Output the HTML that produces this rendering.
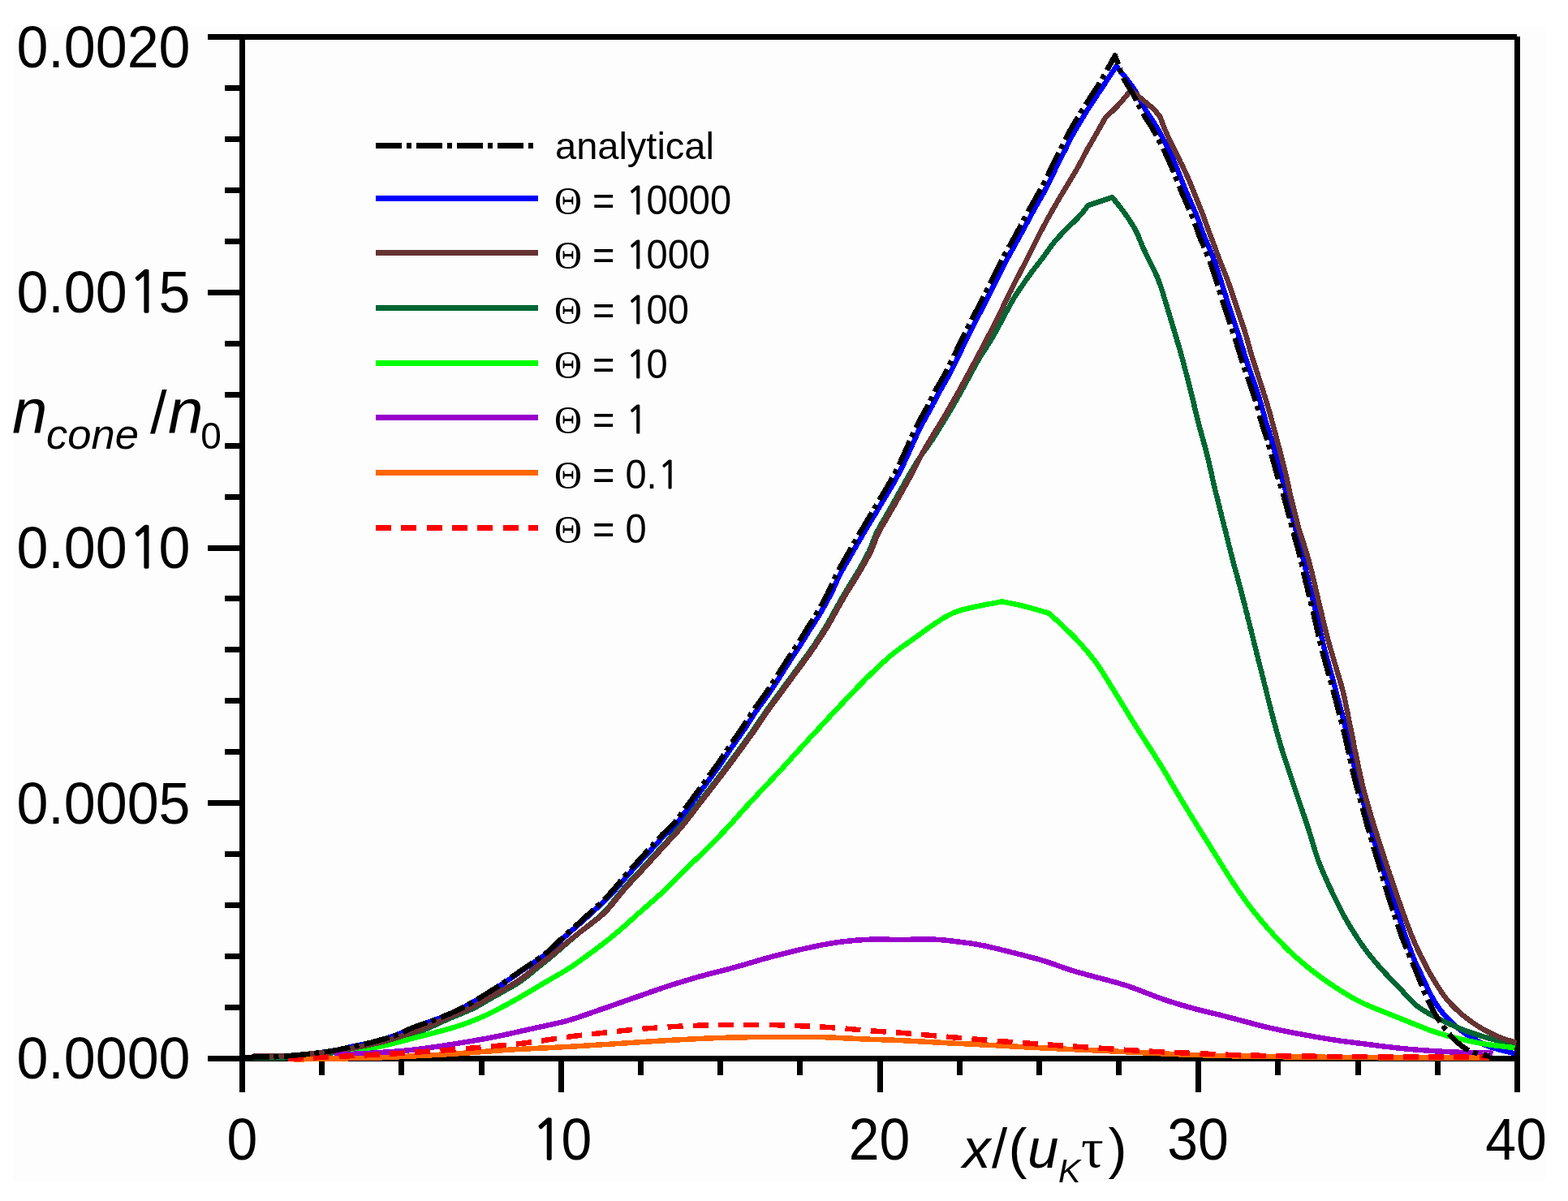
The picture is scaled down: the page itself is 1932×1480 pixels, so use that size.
<!DOCTYPE html>
<html><head><meta charset="utf-8"><style>
html,body{margin:0;padding:0;background:#fff;}
svg{display:block;}
.tk{font-family:"Liberation Sans",Arial,sans-serif;font-size:70px;fill:#000;}
.lg{font-family:"Liberation Sans",Arial,sans-serif;font-size:47px;fill:#000;}
.th{font-family:"Liberation Serif","Times New Roman",serif;}
.ax{font-family:"Liberation Sans",Arial,sans-serif;fill:#000;}
</style></head><body>
<svg xmlns="http://www.w3.org/2000/svg" width="1932" height="1480" viewBox="0 0 1932 1480">
<rect x="0" y="0" width="1932" height="1480" fill="#fff"/>
<rect x="16" y="32" width="1889" height="1424" fill="#fdfdfd"/>
<g fill="#000" shape-rendering="crispEdges">
<rect x="256" y="42" width="1613" height="7"/>
<rect x="295" y="42" width="7" height="1304"/>
<rect x="1866" y="45" width="7" height="1301"/>
<rect x="256" y="1301" width="1617" height="7"/>
<rect x="256" y="1301.0" width="40" height="7"/>
<rect x="277" y="1238.0" width="19" height="7"/>
<rect x="277" y="1175.1" width="19" height="7"/>
<rect x="277" y="1112.2" width="19" height="7"/>
<rect x="277" y="1049.2" width="19" height="7"/>
<rect x="256" y="986.2" width="40" height="7"/>
<rect x="277" y="923.3" width="19" height="7"/>
<rect x="277" y="860.3" width="19" height="7"/>
<rect x="277" y="797.4" width="19" height="7"/>
<rect x="277" y="734.4" width="19" height="7"/>
<rect x="256" y="671.5" width="40" height="7"/>
<rect x="277" y="608.5" width="19" height="7"/>
<rect x="277" y="545.6" width="19" height="7"/>
<rect x="277" y="482.6" width="19" height="7"/>
<rect x="277" y="419.7" width="19" height="7"/>
<rect x="256" y="356.8" width="40" height="7"/>
<rect x="277" y="293.8" width="19" height="7"/>
<rect x="277" y="230.8" width="19" height="7"/>
<rect x="277" y="167.9" width="19" height="7"/>
<rect x="277" y="105.0" width="19" height="7"/>
<rect x="256" y="42.0" width="40" height="7"/>
<rect x="295.0" y="1305" width="7" height="41"/>
<rect x="393.2" y="1305" width="7" height="20"/>
<rect x="491.4" y="1305" width="7" height="20"/>
<rect x="589.6" y="1305" width="7" height="20"/>
<rect x="687.8" y="1305" width="7" height="41"/>
<rect x="785.9" y="1305" width="7" height="20"/>
<rect x="884.1" y="1305" width="7" height="20"/>
<rect x="982.3" y="1305" width="7" height="20"/>
<rect x="1080.5" y="1305" width="7" height="41"/>
<rect x="1178.7" y="1305" width="7" height="20"/>
<rect x="1276.9" y="1305" width="7" height="20"/>
<rect x="1375.1" y="1305" width="7" height="20"/>
<rect x="1473.2" y="1305" width="7" height="41"/>
<rect x="1571.4" y="1305" width="7" height="20"/>
<rect x="1669.6" y="1305" width="7" height="20"/>
<rect x="1767.8" y="1305" width="7" height="20"/>
<rect x="1866.0" y="1305" width="7" height="41"/>
</g>
<g shape-rendering="crispEdges">
<polyline points="312.0,1302.5 315.0,1302.5 318.0,1302.5 321.0,1302.5 324.0,1302.5 327.0,1302.5 330.0,1302.5 333.0,1302.4 336.0,1302.4 339.0,1302.3 342.0,1302.1 345.0,1301.9 348.0,1301.7 351.0,1301.5 354.0,1301.3 357.0,1301.0 360.0,1300.7 363.0,1300.5 366.0,1300.2 369.0,1300.0 371.9,1299.7 374.9,1299.4 377.9,1299.1 380.9,1298.8 383.9,1298.4 386.9,1298.1 389.9,1297.7 392.8,1297.3 395.8,1296.9 398.8,1296.5 401.8,1296.1 404.7,1295.7 407.7,1295.2 410.7,1294.8 413.6,1294.2 416.6,1293.7 419.5,1293.0 422.4,1292.4 425.4,1291.7 428.3,1291.1 431.2,1290.4 434.1,1289.7 437.1,1289.1 440.0,1288.5 443.0,1287.9 445.9,1287.3 448.8,1286.6 451.8,1286.0 454.7,1285.3 457.6,1284.6 460.5,1283.8 463.4,1283.1 466.3,1282.3 469.2,1281.4 472.1,1280.6 475.0,1279.8 477.8,1278.9 480.7,1278.1 483.6,1277.1 486.4,1276.2 489.2,1275.1 491.9,1274.0 494.7,1272.8 497.4,1271.5 500.1,1270.2 502.8,1268.9 505.5,1267.7 508.2,1266.6 511.0,1265.5 513.8,1264.4 516.7,1263.5 519.5,1262.5 522.4,1261.6 525.2,1260.6 528.0,1259.6 530.9,1258.7 533.7,1257.6 536.5,1256.6 539.3,1255.5 542.1,1254.4 544.9,1253.3 547.7,1252.2 550.5,1251.1 553.3,1249.9 556.0,1248.8 558.8,1247.6 561.5,1246.3 564.2,1245.0 566.9,1243.7 569.6,1242.3 572.2,1240.9 574.8,1239.5 577.5,1238.0 580.1,1236.5 582.7,1235.1 585.3,1233.6 587.9,1232.0 590.5,1230.5 593.1,1229.0 595.6,1227.4 598.2,1225.9 600.8,1224.3 603.3,1222.7 605.9,1221.1 608.4,1219.5 610.9,1217.9 613.4,1216.3 616.0,1214.6 618.5,1213.0 621.0,1211.3 623.5,1209.6 625.9,1208.0 628.4,1206.3 630.9,1204.6 633.4,1202.8 635.8,1201.1 638.3,1199.4 640.8,1197.7 643.2,1196.0 645.7,1194.3 648.2,1192.6 650.7,1190.9 653.2,1189.3 655.7,1187.6 658.2,1185.9 660.7,1184.3 663.2,1182.6 665.6,1180.9 668.1,1179.2 670.5,1177.4 672.9,1175.6 675.3,1173.8 677.5,1171.8 679.7,1169.8 681.9,1167.8 684.1,1165.7 686.2,1163.6 688.3,1161.5 690.5,1159.4 692.7,1157.3 694.9,1155.3 697.1,1153.3 699.4,1151.3 701.6,1149.3 703.9,1147.3 706.1,1145.3 708.4,1143.4 710.6,1141.4 712.9,1139.4 715.1,1137.4 717.4,1135.4 719.6,1133.4 721.9,1131.4 724.1,1129.4 726.3,1127.4 728.6,1125.4 730.8,1123.3 733.0,1121.3 735.2,1119.3 737.5,1117.3 739.7,1115.3 741.9,1113.2 744.1,1111.2 746.2,1109.1 748.4,1107.0 750.4,1104.8 752.5,1102.6 754.5,1100.4 756.5,1098.2 758.5,1095.9 760.5,1093.7 762.4,1091.4 764.4,1089.1 766.3,1086.8 768.3,1084.5 770.2,1082.3 772.2,1080.0 774.2,1077.7 776.2,1075.5 778.2,1073.3 780.2,1071.0 782.3,1068.8 784.3,1066.6 786.3,1064.4 788.4,1062.2 790.4,1060.0 792.5,1057.8 794.5,1055.6 796.6,1053.4 798.6,1051.2 800.7,1049.0 802.7,1046.8 804.7,1044.6 806.8,1042.4 808.8,1040.2 810.8,1037.9 812.8,1035.7 814.8,1033.5 816.9,1031.4 819.0,1029.3 821.2,1027.2 823.4,1025.2 825.6,1023.2 827.8,1021.1 829.9,1019.0 831.9,1016.9 833.9,1014.6 835.8,1012.3 837.6,1009.9 839.4,1007.5 841.1,1005.1 842.9,1002.7 844.7,1000.2 846.5,997.8 848.3,995.4 850.1,993.0 851.9,990.6 853.7,988.2 855.4,985.8 857.2,983.4 859.0,980.9 860.8,978.5 862.5,976.1 864.3,973.7 866.1,971.3 867.9,968.8 869.6,966.4 871.4,964.0 873.2,961.6 875.0,959.2 876.8,956.7 878.6,954.3 880.3,951.9 882.1,949.5 883.9,947.0 885.6,944.6 887.3,942.1 889.0,939.7 890.7,937.2 892.4,934.7 894.1,932.2 895.7,929.7 897.4,927.2 899.1,924.7 900.7,922.2 902.4,919.7 904.1,917.3 905.9,914.8 907.6,912.3 909.3,909.9 911.1,907.4 912.8,905.0 914.5,902.5 916.2,900.1 917.9,897.6 919.6,895.1 921.2,892.6 922.8,890.0 924.5,887.5 926.1,885.0 927.7,882.4 929.3,879.9 931.0,877.4 932.7,874.9 934.4,872.5 936.1,870.0 937.9,867.6 939.7,865.2 941.5,862.8 943.3,860.4 945.0,858.0 946.8,855.5 948.5,853.0 950.1,850.5 951.8,848.0 953.4,845.5 955.1,843.0 956.7,840.5 958.3,838.0 960.0,835.4 961.6,832.9 963.2,830.4 964.8,827.8 966.4,825.3 968.0,822.7 969.6,820.2 971.2,817.7 972.8,815.1 974.5,812.6 976.1,810.1 977.8,807.6 979.4,805.1 981.1,802.6 982.7,800.1 984.4,797.6 986.0,795.1 987.6,792.5 989.2,790.0 990.8,787.4 992.4,784.9 994.0,782.3 995.5,779.8 997.1,777.2 998.7,774.7 1000.3,772.1 1001.9,769.6 1003.6,767.1 1005.2,764.5 1006.8,762.0 1008.4,759.5 1010.0,756.9 1011.5,754.3 1013.0,751.7 1014.5,749.1 1016.0,746.5 1017.5,743.9 1018.9,741.3 1020.3,738.6 1021.7,736.0 1023.1,733.3 1024.5,730.6 1025.8,727.9 1027.0,725.2 1028.2,722.5 1029.5,719.7 1030.7,717.0 1031.9,714.2 1033.2,711.5 1034.5,708.8 1035.9,706.2 1037.3,703.5 1038.7,700.9 1040.2,698.3 1041.7,695.7 1043.2,693.1 1044.8,690.5 1046.3,687.9 1047.8,685.3 1049.3,682.7 1050.8,680.1 1052.3,677.5 1053.8,674.9 1055.3,672.3 1056.7,669.7 1058.2,667.1 1059.7,664.5 1061.3,661.9 1062.8,659.3 1064.3,656.7 1065.9,654.2 1067.4,651.6 1069.0,649.0 1070.5,646.4 1072.1,643.9 1073.6,641.3 1075.2,638.7 1076.7,636.2 1078.3,633.6 1079.8,631.0 1081.4,628.4 1082.9,625.8 1084.4,623.3 1086.0,620.7 1087.5,618.1 1089.1,615.5 1090.6,613.0 1092.2,610.4 1093.7,607.8 1095.2,605.2 1096.8,602.6 1098.3,600.1 1099.8,597.5 1101.3,594.9 1102.8,592.2 1104.2,589.6 1105.6,587.0 1107.0,584.3 1108.4,581.6 1109.8,579.0 1111.1,576.3 1112.4,573.6 1113.7,570.9 1115.0,568.2 1116.3,565.4 1117.5,562.7 1118.7,560.0 1120.0,557.2 1121.2,554.5 1122.5,551.7 1123.7,549.0 1124.9,546.3 1126.2,543.5 1127.4,540.8 1128.6,538.1 1129.9,535.3 1131.1,532.6 1132.4,529.9 1133.8,527.2 1135.2,524.6 1136.6,521.9 1138.0,519.3 1139.5,516.7 1141.0,514.1 1142.4,511.4 1143.9,508.8 1145.3,506.2 1146.8,503.5 1148.2,500.9 1149.5,498.2 1150.9,495.5 1152.3,492.9 1153.6,490.2 1155.0,487.5 1156.4,484.9 1157.8,482.2 1159.3,479.6 1160.8,477.0 1162.3,474.4 1163.8,471.8 1165.3,469.2 1166.8,466.6 1168.3,464.0 1169.7,461.4 1171.1,458.7 1172.5,456.0 1173.9,453.4 1175.2,450.7 1176.5,448.0 1177.8,445.3 1179.1,442.6 1180.4,439.8 1181.7,437.1 1183.0,434.4 1184.3,431.7 1185.6,429.0 1186.9,426.3 1188.2,423.6 1189.5,420.9 1190.8,418.2 1192.2,415.5 1193.5,412.8 1194.8,410.1 1196.2,407.4 1197.5,404.8 1198.9,402.1 1200.3,399.4 1201.6,396.7 1203.0,394.1 1204.4,391.4 1205.7,388.7 1207.1,386.0 1208.5,383.4 1209.9,380.7 1211.2,378.0 1212.6,375.3 1213.9,372.7 1215.3,370.0 1216.6,367.3 1218.0,364.6 1219.3,361.9 1220.7,359.2 1222.0,356.6 1223.4,353.9 1224.7,351.2 1226.1,348.5 1227.4,345.8 1228.7,343.1 1230.1,340.4 1231.4,337.8 1232.8,335.1 1234.1,332.4 1235.5,329.7 1236.9,327.1 1238.3,324.4 1239.6,321.7 1241.0,319.1 1242.5,316.4 1243.9,313.8 1245.3,311.1 1246.8,308.5 1248.3,305.9 1249.7,303.3 1251.2,300.7 1252.6,298.0 1254.1,295.4 1255.5,292.8 1257.0,290.1 1258.4,287.5 1259.8,284.8 1261.3,282.2 1262.7,279.6 1264.1,276.9 1265.5,274.3 1267.0,271.6 1268.4,269.0 1269.8,266.3 1271.2,263.7 1272.7,261.0 1274.1,258.4 1275.6,255.8 1277.0,253.2 1278.5,250.6 1280.0,248.0 1281.5,245.3 1283.0,242.7 1284.5,240.1 1285.9,237.5 1287.4,234.9 1288.8,232.2 1290.2,229.6 1291.5,226.9 1292.9,224.2 1294.2,221.5 1295.5,218.8 1296.8,216.1 1298.1,213.4 1299.4,210.7 1300.6,207.9 1301.9,205.2 1303.2,202.5 1304.5,199.8 1305.9,197.1 1307.3,194.5 1308.7,191.8 1310.0,189.2 1311.4,186.5 1312.8,183.8 1314.1,181.1 1315.4,178.4 1316.7,175.7 1318.0,173.0 1319.3,170.3 1320.7,167.7 1322.2,165.1 1323.6,162.4 1325.1,159.9 1326.7,157.3 1328.2,154.7 1329.8,152.1 1331.3,149.5 1332.9,147.0 1334.4,144.4 1336.0,141.8 1337.5,139.3 1339.1,136.7 1340.7,134.2 1342.3,131.6 1343.9,129.1 1345.6,126.6 1347.2,124.1 1348.9,121.6 1350.6,119.1 1352.2,116.6 1353.9,114.1 1355.6,111.6 1357.2,109.1 1358.9,106.6 1360.6,104.1 1362.2,101.6 1363.9,99.1 1365.5,96.6 1367.2,94.1 1368.8,91.5 1370.5,89.0 1372.1,86.5 1373.8,84.0 1375.4,81.5 1377.3,83.8 1379.2,86.1 1381.1,88.5 1383.0,90.8 1384.9,93.1 1386.8,95.5 1388.6,97.8 1390.4,100.2 1392.2,102.6 1394.0,105.1 1395.7,107.5 1397.4,110.0 1399.0,112.5 1400.5,115.1 1402.0,117.7 1403.4,120.4 1404.8,123.0 1406.2,125.7 1407.6,128.3 1409.0,131.0 1410.4,133.6 1411.9,136.2 1413.5,138.7 1415.1,141.3 1416.8,143.7 1418.5,146.2 1420.2,148.7 1421.8,151.2 1423.4,153.7 1425.0,156.3 1426.5,158.9 1428.0,161.5 1429.4,164.1 1430.8,166.8 1432.2,169.4 1433.6,172.1 1435.0,174.8 1436.3,177.5 1437.7,180.1 1439.0,182.8 1440.3,185.5 1441.6,188.3 1442.9,191.0 1444.1,193.7 1445.4,196.5 1446.6,199.2 1447.8,202.0 1448.9,204.7 1450.1,207.5 1451.2,210.3 1452.3,213.1 1453.4,215.9 1454.5,218.7 1455.6,221.4 1456.8,224.2 1457.9,227.0 1459.0,229.8 1460.1,232.6 1461.3,235.4 1462.4,238.1 1463.6,240.9 1464.8,243.7 1466.0,246.4 1467.2,249.2 1468.5,251.9 1469.7,254.6 1470.9,257.4 1472.1,260.1 1473.3,262.9 1474.4,265.7 1475.5,268.5 1476.6,271.3 1477.6,274.1 1478.6,276.9 1479.5,279.8 1480.5,282.6 1481.5,285.4 1482.6,288.2 1483.7,291.0 1484.8,293.8 1486.0,296.6 1487.2,299.3 1488.4,302.1 1489.6,304.8 1490.7,307.6 1491.8,310.4 1493.0,313.2 1494.1,316.0 1495.1,318.8 1496.2,321.6 1497.2,324.4 1498.2,327.3 1499.1,330.1 1500.1,332.9 1501.0,335.8 1502.0,338.7 1502.9,341.5 1503.8,344.4 1504.7,347.2 1505.6,350.1 1506.5,353.0 1507.4,355.9 1508.3,358.7 1509.2,361.6 1510.1,364.5 1511.0,367.3 1511.9,370.2 1512.9,373.0 1513.8,375.9 1514.7,378.7 1515.7,381.6 1516.6,384.4 1517.6,387.3 1518.5,390.1 1519.5,393.0 1520.5,395.8 1521.4,398.7 1522.4,401.5 1523.3,404.4 1524.2,407.2 1525.2,410.1 1526.1,412.9 1527.0,415.8 1527.9,418.7 1528.8,421.5 1529.7,424.4 1530.6,427.3 1531.4,430.2 1532.3,433.0 1533.2,435.9 1534.1,438.8 1535.0,441.6 1535.9,444.5 1536.9,447.4 1537.8,450.2 1538.8,453.0 1539.7,455.9 1540.7,458.7 1541.7,461.6 1542.7,464.4 1543.8,467.2 1544.8,470.0 1545.8,472.9 1546.7,475.7 1547.7,478.6 1548.6,481.4 1549.6,484.3 1550.5,487.1 1551.4,490.0 1552.2,492.9 1553.1,495.8 1553.9,498.6 1554.7,501.5 1555.5,504.4 1556.3,507.3 1557.1,510.2 1557.9,513.1 1558.7,516.0 1559.5,518.9 1560.4,521.8 1561.3,524.7 1562.2,527.5 1563.1,530.4 1564.0,533.3 1564.8,536.1 1565.7,539.0 1566.6,541.9 1567.4,544.8 1568.2,547.7 1569.0,550.6 1569.8,553.5 1570.5,556.4 1571.3,559.3 1572.1,562.2 1572.8,565.1 1573.6,568.0 1574.4,570.9 1575.1,573.8 1575.9,576.7 1576.7,579.6 1577.5,582.5 1578.3,585.4 1579.1,588.3 1580.0,591.1 1580.9,594.0 1581.8,596.9 1582.7,599.7 1583.6,602.6 1584.4,605.5 1585.2,608.4 1586.0,611.3 1586.8,614.2 1587.5,617.1 1588.2,620.0 1589.0,622.9 1589.7,625.8 1590.4,628.8 1591.2,631.7 1591.9,634.6 1592.6,637.5 1593.3,640.4 1594.1,643.3 1594.8,646.2 1595.6,649.2 1596.3,652.1 1597.1,655.0 1597.8,657.9 1598.6,660.8 1599.4,663.7 1600.2,666.6 1601.0,669.5 1601.8,672.4 1602.5,675.3 1603.3,678.2 1604.0,681.1 1604.7,684.0 1605.4,686.9 1606.1,689.9 1606.8,692.8 1607.4,695.7 1608.1,698.7 1608.7,701.6 1609.4,704.5 1610.1,707.4 1610.7,710.4 1611.4,713.3 1612.1,716.2 1612.8,719.1 1613.5,722.1 1614.2,725.0 1615.0,727.9 1615.7,730.8 1616.4,733.7 1617.1,736.7 1617.8,739.6 1618.5,742.5 1619.2,745.4 1619.9,748.3 1620.6,751.3 1621.3,754.2 1622.0,757.1 1622.7,760.0 1623.3,763.0 1624.0,765.9 1624.7,768.8 1625.3,771.8 1626.0,774.7 1626.7,777.6 1627.3,780.5 1628.0,783.5 1628.7,786.4 1629.4,789.3 1630.0,792.2 1630.8,795.2 1631.5,798.1 1632.2,801.0 1633.0,803.9 1633.8,806.8 1634.6,809.7 1635.4,812.6 1636.2,815.5 1637.0,818.4 1637.8,821.3 1638.6,824.2 1639.4,827.1 1640.2,830.0 1641.0,832.9 1641.8,835.8 1642.6,838.6 1643.4,841.5 1644.2,844.4 1644.9,847.3 1645.7,850.2 1646.5,853.1 1647.3,856.1 1648.0,859.0 1648.8,861.9 1649.6,864.8 1650.3,867.7 1651.1,870.6 1651.9,873.5 1652.6,876.4 1653.4,879.3 1654.1,882.2 1654.9,885.1 1655.7,888.0 1656.4,890.9 1657.2,893.8 1657.9,896.7 1658.6,899.7 1659.4,902.6 1660.1,905.5 1660.7,908.4 1661.4,911.4 1662.1,914.3 1662.7,917.2 1663.3,920.2 1664.0,923.1 1664.6,926.0 1665.3,929.0 1665.9,931.9 1666.6,934.8 1667.2,937.8 1667.8,940.7 1668.5,943.6 1669.1,946.6 1669.8,949.5 1670.5,952.4 1671.1,955.4 1671.8,958.3 1672.6,961.2 1673.3,964.1 1674.1,967.0 1674.9,969.9 1675.7,972.8 1676.4,975.7 1677.2,978.6 1678.0,981.5 1678.8,984.4 1679.6,987.3 1680.4,990.2 1681.2,993.1 1682.0,996.0 1682.8,998.9 1683.6,1001.8 1684.4,1004.7 1685.1,1007.6 1685.9,1010.5 1686.7,1013.4 1687.5,1016.3 1688.3,1019.2 1689.1,1022.1 1689.9,1025.0 1690.8,1027.8 1691.6,1030.7 1692.5,1033.6 1693.3,1036.5 1694.2,1039.4 1695.1,1042.2 1695.9,1045.1 1696.8,1048.0 1697.7,1050.9 1698.5,1053.7 1699.4,1056.6 1700.3,1059.5 1701.2,1062.4 1702.1,1065.2 1703.0,1068.1 1703.9,1070.9 1704.9,1073.8 1705.8,1076.7 1706.7,1079.5 1707.7,1082.4 1708.6,1085.2 1709.5,1088.1 1710.5,1090.9 1711.4,1093.8 1712.4,1096.6 1713.3,1099.5 1714.3,1102.3 1715.2,1105.2 1716.2,1108.0 1717.2,1110.9 1718.2,1113.7 1719.1,1116.5 1720.1,1119.4 1721.0,1122.2 1722.0,1125.1 1722.9,1127.9 1723.9,1130.8 1724.8,1133.7 1725.8,1136.5 1726.7,1139.4 1727.7,1142.2 1728.7,1145.0 1729.6,1147.9 1730.6,1150.7 1731.6,1153.5 1732.7,1156.4 1733.7,1159.2 1734.7,1162.0 1735.7,1164.8 1736.7,1167.7 1737.8,1170.5 1738.8,1173.3 1739.9,1176.1 1741.0,1178.9 1742.1,1181.7 1743.3,1184.4 1744.5,1187.2 1745.8,1189.9 1747.1,1192.6 1748.4,1195.3 1749.7,1198.0 1751.0,1200.7 1752.3,1203.4 1753.5,1206.2 1754.8,1208.9 1756.0,1211.6 1757.3,1214.3 1758.6,1217.1 1759.9,1219.8 1761.3,1222.4 1762.6,1225.1 1764.0,1227.8 1765.5,1230.4 1767.0,1233.0 1768.5,1235.6 1770.1,1238.1 1771.8,1240.6 1773.5,1243.0 1775.4,1245.4 1777.2,1247.7 1779.2,1250.0 1781.1,1252.3 1783.1,1254.5 1785.2,1256.7 1787.3,1258.8 1789.4,1260.9 1791.6,1262.9 1793.9,1264.9 1796.2,1266.8 1798.6,1268.6 1801.0,1270.4 1803.4,1272.2 1805.9,1273.9 1808.4,1275.5 1810.9,1277.1 1813.5,1278.7 1816.0,1280.2 1818.6,1281.7 1821.3,1283.2 1823.9,1284.6 1826.5,1286.0 1829.2,1287.3 1832.0,1288.5 1834.7,1289.5 1837.6,1290.5 1840.4,1291.4 1843.3,1292.2 1846.2,1293.1 1849.1,1293.8 1852.0,1294.6 1854.9,1295.4 1857.8,1296.2 1860.7,1296.9 1863.6,1297.7 1866.5,1298.5" fill="none" stroke="#0000FF" stroke-width="6.5" stroke-linejoin="round" />
<polyline points="312.0,1303.5 315.0,1303.5 318.0,1303.5 321.0,1303.5 324.0,1303.5 327.0,1303.5 330.0,1303.5 333.0,1303.5 336.0,1303.5 339.0,1303.5 342.0,1303.5 345.0,1303.4 348.0,1303.4 351.0,1303.3 354.0,1303.2 357.0,1303.0 360.0,1302.8 363.0,1302.5 366.0,1302.3 368.9,1302.0 371.9,1301.7 374.9,1301.4 377.9,1301.1 380.9,1300.8 383.9,1300.4 386.9,1300.1 389.8,1299.8 392.8,1299.5 395.8,1299.1 398.8,1298.7 401.7,1298.4 404.7,1298.0 407.7,1297.6 410.7,1297.2 413.6,1296.8 416.6,1296.4 419.6,1296.0 422.6,1295.6 425.5,1295.2 428.5,1294.7 431.5,1294.3 434.4,1293.8 437.4,1293.3 440.3,1292.7 443.3,1292.1 446.2,1291.5 449.1,1290.9 452.1,1290.2 455.0,1289.6 457.9,1289.0 460.9,1288.3 463.8,1287.7 466.7,1287.0 469.6,1286.3 472.6,1285.6 475.5,1284.9 478.3,1284.1 481.2,1283.2 484.1,1282.3 486.9,1281.4 489.8,1280.5 492.6,1279.6 495.5,1278.6 498.3,1277.7 501.2,1276.7 504.0,1275.8 506.9,1274.8 509.7,1273.8 512.6,1272.9 515.4,1271.9 518.2,1270.8 521.0,1269.8 523.8,1268.6 526.5,1267.5 529.3,1266.3 532.0,1265.0 534.7,1263.8 537.5,1262.5 540.2,1261.3 542.9,1260.0 545.6,1258.8 548.4,1257.5 551.1,1256.3 553.9,1255.1 556.6,1253.9 559.4,1252.8 562.2,1251.6 564.9,1250.5 567.7,1249.4 570.5,1248.2 573.3,1247.1 576.0,1245.9 578.8,1244.7 581.5,1243.5 584.2,1242.2 586.8,1240.8 589.4,1239.3 592.0,1237.8 594.6,1236.3 597.2,1234.8 599.8,1233.3 602.4,1231.8 605.0,1230.3 607.6,1228.8 610.2,1227.4 612.9,1225.9 615.5,1224.4 618.1,1223.0 620.7,1221.5 623.3,1220.0 625.9,1218.6 628.5,1217.1 631.1,1215.6 633.7,1214.0 636.3,1212.5 638.8,1210.9 641.3,1209.2 643.7,1207.5 646.1,1205.7 648.5,1203.9 650.8,1202.0 653.1,1200.1 655.5,1198.2 657.8,1196.3 660.1,1194.4 662.4,1192.5 664.8,1190.6 667.1,1188.7 669.4,1186.8 671.8,1185.0 674.1,1183.1 676.5,1181.2 678.8,1179.3 681.1,1177.4 683.4,1175.5 685.7,1173.5 687.9,1171.6 690.2,1169.6 692.4,1167.6 694.7,1165.6 697.0,1163.6 699.2,1161.7 701.5,1159.7 703.8,1157.8 706.1,1155.8 708.4,1153.9 710.7,1152.0 713.0,1150.1 715.4,1148.2 717.7,1146.3 720.0,1144.5 722.4,1142.6 724.7,1140.7 727.1,1138.9 729.5,1137.0 731.8,1135.2 734.1,1133.3 736.4,1131.4 738.7,1129.4 740.9,1127.4 743.1,1125.4 745.2,1123.2 747.3,1121.1 749.3,1118.8 751.2,1116.5 753.1,1114.2 755.0,1111.9 756.8,1109.5 758.7,1107.2 760.5,1104.8 762.4,1102.5 764.3,1100.1 766.2,1097.8 768.1,1095.5 770.0,1093.2 772.0,1091.0 774.0,1088.7 776.1,1086.5 778.1,1084.3 780.1,1082.1 782.2,1079.9 784.2,1077.7 786.3,1075.5 788.3,1073.4 790.4,1071.2 792.4,1069.0 794.4,1066.7 796.5,1064.5 798.5,1062.3 800.5,1060.1 802.5,1057.9 804.6,1055.7 806.6,1053.5 808.6,1051.2 810.6,1049.0 812.7,1046.8 814.7,1044.6 816.7,1042.4 818.7,1040.2 820.8,1038.0 822.8,1035.7 824.8,1033.5 826.9,1031.3 828.9,1029.1 830.9,1026.9 832.9,1024.7 834.9,1022.5 836.9,1020.2 838.9,1017.9 840.8,1015.6 842.7,1013.3 844.5,1011.0 846.4,1008.6 848.2,1006.2 850.0,1003.8 851.8,1001.4 853.7,999.0 855.5,996.6 857.3,994.3 859.1,991.9 860.9,989.5 862.8,987.1 864.6,984.8 866.5,982.4 868.3,980.0 870.1,977.6 872.0,975.3 873.8,972.9 875.7,970.5 877.5,968.2 879.3,965.8 881.2,963.4 883.0,961.0 884.8,958.7 886.6,956.3 888.5,953.9 890.3,951.5 892.1,949.1 893.9,946.7 895.7,944.3 897.5,941.9 899.3,939.5 901.1,937.1 902.9,934.7 904.7,932.3 906.4,929.8 908.2,927.4 910.0,925.0 911.7,922.6 913.5,920.1 915.2,917.7 917.0,915.3 918.8,912.8 920.5,910.4 922.3,908.0 924.0,905.5 925.8,903.1 927.5,900.6 929.2,898.2 930.9,895.7 932.6,893.2 934.3,890.7 935.9,888.2 937.6,885.7 939.3,883.2 940.9,880.8 942.6,878.3 944.3,875.8 946.1,873.4 947.8,870.9 949.6,868.5 951.4,866.1 953.1,863.7 954.9,861.3 956.7,858.8 958.5,856.4 960.3,854.0 962.1,851.6 963.8,849.2 965.6,846.8 967.4,844.4 969.2,841.9 970.9,839.5 972.7,837.1 974.5,834.7 976.3,832.3 978.1,829.8 979.8,827.4 981.6,825.0 983.4,822.6 985.2,820.2 986.9,817.7 988.7,815.3 990.5,812.9 992.2,810.5 994.0,808.1 995.8,805.6 997.5,803.2 999.2,800.7 1000.9,798.3 1002.6,795.8 1004.3,793.3 1005.9,790.7 1007.5,788.2 1009.1,785.7 1010.7,783.2 1012.3,780.6 1013.9,778.1 1015.5,775.5 1017.1,773.0 1018.6,770.4 1020.2,767.8 1021.6,765.2 1023.1,762.6 1024.5,760.0 1026.0,757.3 1027.4,754.7 1028.9,752.1 1030.3,749.5 1031.8,746.9 1033.3,744.2 1034.7,741.6 1036.2,739.0 1037.7,736.4 1039.2,733.8 1040.7,731.2 1042.3,728.7 1043.8,726.1 1045.4,723.5 1046.9,721.0 1048.5,718.4 1050.1,715.9 1051.7,713.3 1053.2,710.7 1054.8,708.2 1056.3,705.6 1057.9,703.0 1059.4,700.4 1060.8,697.8 1062.3,695.2 1063.8,692.6 1065.2,689.9 1066.6,687.3 1068.0,684.7 1069.4,682.0 1070.8,679.3 1072.0,676.6 1073.2,673.9 1074.3,671.1 1075.3,668.3 1076.3,665.5 1077.4,662.7 1078.5,660.0 1079.7,657.3 1081.0,654.6 1082.4,652.0 1083.8,649.3 1085.3,646.8 1086.9,644.2 1088.4,641.6 1089.9,639.0 1091.4,636.4 1092.9,633.8 1094.4,631.2 1095.9,628.6 1097.3,626.0 1098.8,623.3 1100.3,620.7 1101.7,618.1 1103.2,615.5 1104.6,612.9 1106.1,610.2 1107.6,607.6 1109.0,605.0 1110.5,602.4 1112.0,599.8 1113.4,597.2 1114.9,594.5 1116.4,591.9 1117.9,589.3 1119.4,586.7 1120.9,584.1 1122.4,581.5 1123.9,579.0 1125.5,576.4 1127.0,573.8 1128.6,571.3 1130.2,568.7 1131.8,566.2 1133.4,563.7 1135.1,561.2 1136.8,558.7 1138.5,556.3 1140.3,553.9 1142.1,551.4 1143.8,549.0 1145.5,546.6 1147.2,544.1 1148.9,541.6 1150.5,539.1 1152.1,536.5 1153.7,534.0 1155.3,531.4 1156.8,528.9 1158.4,526.3 1160.0,523.8 1161.6,521.2 1163.1,518.7 1164.7,516.1 1166.3,513.5 1167.8,511.0 1169.4,508.4 1170.9,505.8 1172.4,503.2 1173.9,500.6 1175.4,498.0 1176.9,495.4 1178.4,492.8 1179.9,490.2 1181.3,487.6 1182.8,485.0 1184.3,482.4 1185.7,479.7 1187.2,477.1 1188.6,474.5 1190.0,471.8 1191.5,469.2 1192.9,466.5 1194.3,463.9 1195.7,461.3 1197.2,458.6 1198.6,456.0 1200.0,453.3 1201.5,450.7 1202.9,448.1 1204.4,445.5 1205.9,442.9 1207.4,440.3 1209.0,437.7 1210.6,435.2 1212.2,432.7 1213.8,430.2 1215.5,427.7 1217.1,425.1 1218.7,422.6 1220.3,420.0 1221.8,417.5 1223.3,414.9 1224.8,412.3 1226.3,409.7 1227.7,407.0 1229.2,404.4 1230.6,401.8 1232.0,399.1 1233.5,396.5 1234.9,393.9 1236.3,391.2 1237.7,388.6 1239.1,385.9 1240.5,383.3 1242.0,380.6 1243.4,378.0 1244.8,375.3 1246.3,372.7 1247.7,370.1 1249.3,367.5 1250.8,365.0 1252.4,362.4 1254.1,359.9 1255.7,357.4 1257.4,354.9 1259.1,352.5 1260.8,350.0 1262.5,347.5 1264.2,345.1 1266.0,342.6 1267.7,340.2 1269.5,337.8 1271.2,335.3 1273.0,332.9 1274.9,330.5 1276.7,328.2 1278.5,325.8 1280.4,323.5 1282.2,321.1 1284.1,318.7 1285.9,316.3 1287.6,313.9 1289.4,311.4 1291.1,309.0 1292.8,306.5 1294.6,304.1 1296.4,301.7 1298.2,299.4 1300.1,297.1 1302.1,294.8 1304.1,292.6 1306.1,290.4 1308.2,288.2 1310.2,286.0 1312.3,283.9 1314.5,281.8 1316.6,279.7 1318.8,277.6 1320.9,275.5 1323.1,273.4 1325.2,271.3 1327.3,269.2 1329.4,267.0 1331.4,264.8 1333.3,262.5 1335.2,260.2 1337.1,257.9 1338.9,255.5 1340.7,253.1 1343.7,252.1 1346.7,251.2 1349.6,250.2 1352.6,249.2 1355.6,248.1 1358.6,247.1 1361.5,246.1 1364.5,245.1 1367.5,244.2 1370.5,243.2 1372.4,245.5 1374.3,247.9 1376.2,250.2 1378.0,252.5 1379.9,254.9 1381.7,257.3 1383.5,259.7 1385.3,262.1 1387.0,264.5 1388.8,267.0 1390.4,269.5 1392.1,272.0 1393.7,274.5 1395.3,277.0 1396.9,279.6 1398.3,282.2 1399.7,284.8 1401.0,287.5 1402.3,290.2 1403.4,293.0 1404.5,295.8 1405.7,298.5 1406.8,301.3 1408.0,304.1 1409.2,306.8 1410.4,309.5 1411.7,312.2 1413.0,314.9 1414.4,317.6 1415.7,320.3 1417.0,323.0 1418.4,325.7 1419.7,328.3 1421.1,331.0 1422.4,333.7 1423.7,336.4 1424.9,339.2 1426.0,341.9 1427.1,344.7 1428.2,347.5 1429.2,350.3 1430.2,353.2 1431.1,356.0 1432.1,358.9 1433.0,361.7 1433.8,364.6 1434.7,367.5 1435.6,370.4 1436.4,373.2 1437.3,376.1 1438.2,379.0 1439.0,381.8 1439.9,384.7 1440.8,387.6 1441.6,390.5 1442.5,393.3 1443.4,396.2 1444.2,399.1 1445.1,402.0 1445.9,404.8 1446.8,407.7 1447.7,410.6 1448.5,413.5 1449.4,416.3 1450.2,419.2 1451.1,422.1 1452.0,425.0 1452.8,427.8 1453.7,430.7 1454.5,433.6 1455.3,436.5 1456.1,439.4 1456.9,442.3 1457.7,445.2 1458.5,448.1 1459.2,451.0 1459.9,453.9 1460.7,456.8 1461.4,459.7 1462.2,462.6 1462.9,465.5 1463.7,468.4 1464.5,471.3 1465.2,474.2 1466.0,477.1 1466.7,480.0 1467.4,482.9 1468.1,485.9 1468.9,488.8 1469.6,491.7 1470.3,494.6 1471.0,497.5 1471.6,500.5 1472.3,503.4 1473.0,506.3 1473.7,509.2 1474.4,512.1 1475.1,515.0 1475.9,518.0 1476.6,520.9 1477.3,523.8 1478.1,526.7 1478.9,529.6 1479.7,532.5 1480.5,535.4 1481.3,538.2 1482.1,541.1 1482.9,544.0 1483.7,546.9 1484.5,549.8 1485.3,552.7 1486.0,555.6 1486.8,558.5 1487.5,561.4 1488.2,564.3 1488.9,567.3 1489.6,570.2 1490.3,573.1 1490.9,576.0 1491.6,579.0 1492.3,581.9 1492.9,584.8 1493.6,587.7 1494.2,590.7 1494.9,593.6 1495.6,596.5 1496.3,599.4 1496.9,602.4 1497.6,605.3 1498.3,608.2 1499.1,611.1 1499.8,614.0 1500.5,616.9 1501.2,619.9 1502.0,622.8 1502.7,625.7 1503.4,628.6 1504.2,631.5 1504.9,634.4 1505.6,637.3 1506.3,640.2 1507.1,643.1 1507.8,646.1 1508.5,649.0 1509.3,651.9 1510.0,654.8 1510.7,657.7 1511.4,660.6 1512.2,663.5 1512.9,666.4 1513.6,669.3 1514.3,672.3 1515.1,675.2 1515.8,678.1 1516.5,681.0 1517.3,683.9 1518.0,686.8 1518.8,689.7 1519.5,692.6 1520.3,695.5 1521.1,698.4 1521.9,701.3 1522.7,704.2 1523.5,707.1 1524.3,710.0 1525.0,712.9 1525.8,715.8 1526.6,718.7 1527.4,721.6 1528.2,724.5 1529.0,727.4 1529.7,730.3 1530.5,733.2 1531.2,736.1 1532.0,739.0 1532.7,741.9 1533.5,744.8 1534.2,747.7 1534.9,750.6 1535.6,753.5 1536.4,756.4 1537.1,759.4 1537.8,762.3 1538.6,765.2 1539.3,768.1 1540.0,771.0 1540.7,773.9 1541.5,776.8 1542.2,779.7 1542.9,782.6 1543.7,785.6 1544.4,788.5 1545.1,791.4 1545.8,794.3 1546.6,797.2 1547.3,800.1 1548.0,803.0 1548.7,805.9 1549.5,808.9 1550.2,811.8 1550.9,814.7 1551.7,817.6 1552.4,820.5 1553.1,823.4 1553.9,826.3 1554.6,829.2 1555.3,832.1 1556.1,835.0 1556.8,838.0 1557.5,840.9 1558.2,843.8 1559.0,846.7 1559.7,849.6 1560.4,852.5 1561.1,855.4 1561.9,858.3 1562.6,861.3 1563.3,864.2 1564.0,867.1 1564.8,870.0 1565.5,872.9 1566.2,875.8 1567.0,878.7 1567.7,881.6 1568.5,884.5 1569.3,887.4 1570.0,890.3 1570.8,893.2 1571.6,896.1 1572.4,899.0 1573.2,901.9 1574.0,904.8 1574.9,907.7 1575.7,910.6 1576.5,913.4 1577.3,916.3 1578.2,919.2 1579.0,922.1 1579.9,924.9 1580.8,927.8 1581.8,930.7 1582.7,933.5 1583.6,936.4 1584.6,939.2 1585.5,942.1 1586.5,944.9 1587.4,947.7 1588.4,950.6 1589.3,953.4 1590.3,956.3 1591.2,959.1 1592.2,962.0 1593.1,964.8 1594.1,967.7 1595.0,970.5 1596.0,973.4 1596.9,976.2 1597.9,979.1 1598.8,981.9 1599.8,984.8 1600.7,987.6 1601.7,990.5 1602.6,993.3 1603.6,996.1 1604.6,999.0 1605.5,1001.8 1606.5,1004.7 1607.5,1007.5 1608.4,1010.3 1609.4,1013.2 1610.4,1016.0 1611.3,1018.9 1612.2,1021.7 1613.1,1024.6 1614.0,1027.5 1614.9,1030.3 1615.7,1033.2 1616.6,1036.1 1617.5,1038.9 1618.3,1041.8 1619.2,1044.7 1620.1,1047.6 1621.0,1050.4 1621.9,1053.3 1622.8,1056.1 1623.8,1059.0 1624.8,1061.8 1625.9,1064.6 1627.0,1067.4 1628.1,1070.1 1629.3,1072.9 1630.5,1075.6 1631.8,1078.4 1633.0,1081.1 1634.2,1083.9 1635.4,1086.6 1636.6,1089.3 1637.9,1092.1 1639.1,1094.8 1640.4,1097.5 1641.7,1100.2 1643.0,1102.9 1644.3,1105.6 1645.6,1108.3 1646.9,1111.0 1648.3,1113.7 1649.6,1116.4 1651.0,1119.1 1652.3,1121.7 1653.7,1124.4 1655.1,1127.1 1656.5,1129.7 1658.0,1132.3 1659.5,1134.9 1661.0,1137.5 1662.5,1140.1 1664.1,1142.6 1665.7,1145.2 1667.3,1147.7 1668.9,1150.2 1670.5,1152.8 1672.1,1155.3 1673.7,1157.8 1675.4,1160.3 1677.1,1162.8 1678.8,1165.3 1680.5,1167.7 1682.3,1170.1 1684.1,1172.5 1685.9,1174.9 1687.8,1177.3 1689.7,1179.6 1691.6,1181.9 1693.5,1184.2 1695.4,1186.5 1697.4,1188.8 1699.4,1191.0 1701.4,1193.3 1703.4,1195.5 1705.4,1197.7 1707.4,1199.9 1709.5,1202.1 1711.6,1204.3 1713.7,1206.4 1715.8,1208.6 1717.9,1210.7 1719.9,1212.9 1722.0,1215.0 1724.1,1217.2 1726.1,1219.4 1728.2,1221.6 1730.2,1223.8 1732.2,1226.0 1734.2,1228.3 1736.3,1230.5 1738.3,1232.6 1740.4,1234.7 1742.6,1236.8 1744.9,1238.7 1747.2,1240.5 1749.6,1242.2 1752.1,1243.9 1754.6,1245.4 1757.2,1247.0 1759.8,1248.5 1762.4,1250.0 1765.0,1251.4 1767.7,1252.9 1770.3,1254.2 1773.0,1255.6 1775.7,1256.9 1778.4,1258.2 1781.1,1259.5 1783.8,1260.8 1786.5,1262.0 1789.3,1263.3 1792.0,1264.5 1794.7,1265.7 1797.5,1266.9 1800.3,1268.0 1803.1,1269.1 1805.9,1270.2 1808.7,1271.2 1811.5,1272.2 1814.4,1273.1 1817.2,1274.1 1820.1,1275.0 1822.9,1275.9 1825.8,1276.9 1828.6,1277.7 1831.5,1278.6 1834.4,1279.4 1837.3,1280.1 1840.2,1280.9 1843.1,1281.6 1846.1,1282.3 1849.0,1283.0 1851.9,1283.7 1854.8,1284.3 1857.7,1285.0 1860.7,1285.7 1863.6,1286.4 1866.5,1287.1" fill="none" stroke="#006633" stroke-width="6.5" stroke-linejoin="round" />
<polyline points="415.0,1299.0 418.0,1298.5 420.9,1298.1 423.9,1297.6 426.9,1297.1 429.8,1296.6 432.8,1296.1 435.7,1295.6 438.7,1295.1 441.7,1294.6 444.6,1294.1 447.6,1293.5 450.5,1293.0 453.5,1292.4 456.4,1291.9 459.4,1291.3 462.3,1290.7 465.3,1290.1 468.2,1289.5 471.1,1288.9 474.1,1288.2 477.0,1287.6 479.9,1286.9 482.8,1286.2 485.8,1285.5 488.7,1284.8 491.6,1284.0 494.5,1283.3 497.4,1282.5 500.3,1281.8 503.2,1281.0 506.1,1280.2 509.0,1279.5 511.9,1278.7 514.8,1277.9 517.7,1277.2 520.6,1276.4 523.5,1275.7 526.4,1274.9 529.4,1274.2 532.3,1273.4 535.2,1272.7 538.1,1271.9 541.0,1271.2 543.9,1270.4 546.8,1269.6 549.7,1268.8 552.6,1268.0 555.4,1267.2 558.3,1266.3 561.2,1265.4 564.1,1264.5 566.9,1263.6 569.8,1262.7 572.6,1261.7 575.4,1260.7 578.2,1259.6 581.0,1258.5 583.8,1257.4 586.6,1256.3 589.4,1255.2 592.1,1254.0 594.9,1252.8 597.6,1251.6 600.3,1250.3 603.1,1249.0 605.7,1247.7 608.4,1246.4 611.1,1245.0 613.8,1243.6 616.4,1242.2 619.1,1240.8 621.7,1239.4 624.4,1238.0 627.0,1236.5 629.6,1235.1 632.3,1233.6 634.9,1232.2 637.5,1230.7 640.1,1229.2 642.7,1227.7 645.3,1226.2 647.9,1224.7 650.5,1223.2 653.1,1221.6 655.7,1220.1 658.2,1218.6 660.8,1217.0 663.4,1215.5 666.0,1214.0 668.6,1212.4 671.1,1210.9 673.7,1209.4 676.3,1207.9 678.9,1206.4 681.5,1204.9 684.1,1203.4 686.7,1201.9 689.3,1200.4 691.9,1198.9 694.5,1197.3 697.1,1195.8 699.6,1194.2 702.2,1192.6 704.7,1191.0 707.1,1189.3 709.6,1187.6 712.0,1185.8 714.5,1184.1 716.9,1182.3 719.3,1180.5 721.8,1178.8 724.2,1177.0 726.6,1175.2 729.0,1173.5 731.5,1171.7 733.9,1169.9 736.3,1168.1 738.7,1166.3 741.1,1164.5 743.5,1162.7 745.8,1160.8 748.2,1159.0 750.5,1157.1 752.9,1155.2 755.2,1153.3 757.5,1151.4 759.8,1149.5 762.1,1147.5 764.4,1145.6 766.7,1143.6 768.9,1141.6 771.2,1139.7 773.4,1137.7 775.6,1135.7 777.9,1133.6 780.1,1131.6 782.3,1129.6 784.6,1127.6 786.8,1125.6 789.1,1123.6 791.3,1121.6 793.6,1119.7 795.8,1117.7 798.1,1115.7 800.3,1113.7 802.6,1111.8 804.9,1109.8 807.1,1107.8 809.4,1105.8 811.6,1103.8 813.9,1101.8 816.1,1099.8 818.3,1097.7 820.4,1095.7 822.6,1093.6 824.7,1091.5 826.8,1089.3 829.0,1087.2 831.1,1085.1 833.2,1082.9 835.3,1080.8 837.4,1078.6 839.5,1076.5 841.6,1074.4 843.7,1072.2 845.8,1070.1 848.0,1068.0 850.1,1066.0 852.3,1063.9 854.5,1061.8 856.7,1059.8 858.9,1057.7 861.1,1055.6 863.2,1053.6 865.4,1051.5 867.6,1049.4 869.7,1047.3 871.9,1045.2 874.0,1043.1 876.1,1041.0 878.2,1038.8 880.3,1036.7 882.4,1034.5 884.5,1032.4 886.6,1030.2 888.6,1028.0 890.7,1025.9 892.8,1023.7 894.8,1021.5 896.9,1019.3 898.9,1017.1 900.9,1014.9 903.0,1012.6 905.0,1010.4 906.9,1008.2 908.9,1005.9 910.9,1003.7 912.9,1001.4 914.9,999.2 916.9,996.9 918.9,994.7 921.0,992.5 923.0,990.3 925.0,988.1 927.1,985.9 929.1,983.7 931.2,981.5 933.2,979.3 935.3,977.1 937.4,974.9 939.4,972.8 941.5,970.6 943.5,968.4 945.6,966.2 947.7,964.0 949.7,961.8 951.8,959.7 953.9,957.5 955.9,955.3 958.0,953.1 960.0,950.9 962.1,948.7 964.1,946.5 966.2,944.3 968.2,942.1 970.2,939.9 972.2,937.7 974.2,935.4 976.2,933.2 978.3,931.0 980.3,928.7 982.3,926.5 984.3,924.3 986.3,922.1 988.3,919.9 990.4,917.6 992.4,915.4 994.5,913.2 996.5,911.0 998.5,908.8 1000.6,906.6 1002.6,904.4 1004.7,902.2 1006.7,900.0 1008.7,897.8 1010.8,895.6 1012.8,893.4 1014.9,891.2 1016.9,889.0 1018.9,886.8 1021.0,884.6 1023.0,882.4 1025.1,880.2 1027.1,878.0 1029.2,875.8 1031.2,873.6 1033.3,871.4 1035.3,869.3 1037.4,867.1 1039.5,864.9 1041.6,862.7 1043.6,860.5 1045.7,858.4 1047.8,856.2 1049.9,854.0 1051.9,851.9 1054.0,849.7 1056.1,847.5 1058.2,845.4 1060.3,843.2 1062.4,841.1 1064.5,838.9 1066.6,836.8 1068.7,834.7 1070.9,832.6 1073.0,830.5 1075.2,828.4 1077.4,826.3 1079.5,824.3 1081.7,822.2 1083.9,820.2 1086.1,818.1 1088.3,816.1 1090.5,814.1 1092.8,812.1 1095.0,810.1 1097.3,808.1 1099.6,806.2 1101.9,804.3 1104.3,802.5 1106.7,800.7 1109.1,798.9 1111.5,797.2 1114.0,795.4 1116.4,793.7 1118.9,792.0 1121.3,790.3 1123.8,788.5 1126.2,786.8 1128.7,785.0 1131.1,783.3 1133.6,781.5 1136.0,779.7 1138.4,778.0 1140.8,776.2 1143.3,774.5 1145.7,772.7 1148.2,771.0 1150.7,769.3 1153.2,767.6 1155.7,766.0 1158.2,764.4 1160.7,762.8 1163.3,761.2 1165.9,759.7 1168.5,758.3 1171.1,756.9 1173.8,755.7 1176.5,754.5 1179.3,753.5 1182.1,752.6 1185.0,751.7 1187.9,750.9 1190.8,750.2 1193.7,749.5 1196.6,748.8 1199.5,748.2 1202.4,747.5 1205.4,746.9 1208.3,746.3 1211.3,745.7 1214.2,745.2 1217.2,744.6 1220.1,744.1 1223.1,743.5 1226.0,743.0 1229.0,742.5 1231.9,741.9 1234.9,741.4 1238.0,742.0 1241.1,742.6 1244.2,743.2 1247.3,743.8 1250.3,744.5 1253.4,745.1 1256.5,745.8 1259.6,746.5 1262.6,747.2 1265.7,748.0 1268.7,748.8 1271.8,749.7 1274.8,750.5 1277.8,751.4 1280.8,752.3 1283.8,753.2 1286.9,754.1 1289.9,755.0 1292.9,755.9 1295.1,758.0 1297.3,760.0 1299.5,762.1 1301.7,764.1 1303.9,766.2 1306.0,768.2 1308.2,770.3 1310.4,772.4 1312.6,774.4 1314.8,776.5 1317.0,778.6 1319.1,780.7 1321.3,782.8 1323.4,784.9 1325.5,787.1 1327.5,789.2 1329.6,791.4 1331.6,793.7 1333.6,795.9 1335.5,798.2 1337.5,800.5 1339.5,802.7 1341.4,805.0 1343.3,807.3 1345.2,809.7 1347.1,812.0 1348.9,814.4 1350.7,816.8 1352.4,819.2 1354.1,821.7 1355.8,824.2 1357.4,826.7 1359.0,829.3 1360.6,831.8 1362.2,834.4 1363.8,836.9 1365.4,839.5 1367.0,842.0 1368.5,844.6 1370.1,847.1 1371.7,849.7 1373.3,852.3 1374.9,854.8 1376.4,857.4 1378.0,859.9 1379.6,862.5 1381.1,865.1 1382.7,867.6 1384.3,870.2 1385.9,872.7 1387.4,875.3 1389.0,877.9 1390.6,880.4 1392.1,883.0 1393.7,885.6 1395.3,888.1 1396.9,890.7 1398.5,893.2 1400.0,895.8 1401.7,898.3 1403.3,900.9 1404.9,903.4 1406.5,905.9 1408.1,908.4 1409.8,911.0 1411.4,913.5 1413.0,916.0 1414.7,918.5 1416.3,921.1 1418.0,923.6 1419.6,926.1 1421.2,928.6 1422.8,931.2 1424.4,933.7 1426.0,936.2 1427.6,938.8 1429.2,941.3 1430.8,943.9 1432.3,946.5 1433.9,949.1 1435.4,951.6 1437.0,954.2 1438.5,956.8 1440.0,959.4 1441.6,962.0 1443.1,964.6 1444.6,967.1 1446.2,969.7 1447.7,972.3 1449.3,974.9 1450.8,977.5 1452.3,980.1 1453.9,982.6 1455.4,985.2 1456.9,987.8 1458.5,990.4 1460.1,992.9 1461.6,995.5 1463.2,998.1 1464.8,1000.6 1466.3,1003.2 1467.9,1005.7 1469.5,1008.3 1471.1,1010.9 1472.7,1013.4 1474.3,1016.0 1475.9,1018.5 1477.4,1021.1 1479.0,1023.6 1480.6,1026.2 1482.2,1028.7 1483.8,1031.3 1485.4,1033.8 1487.0,1036.4 1488.6,1038.9 1490.2,1041.5 1491.7,1044.0 1493.3,1046.6 1494.9,1049.1 1496.5,1051.7 1498.1,1054.2 1499.7,1056.8 1501.3,1059.3 1502.9,1061.9 1504.5,1064.4 1506.1,1067.0 1507.7,1069.5 1509.2,1072.1 1510.8,1074.6 1512.4,1077.2 1514.0,1079.7 1515.7,1082.2 1517.3,1084.8 1518.9,1087.3 1520.6,1089.8 1522.3,1092.3 1524.0,1094.8 1525.7,1097.2 1527.4,1099.7 1529.1,1102.2 1530.9,1104.6 1532.6,1107.0 1534.4,1109.5 1536.1,1111.9 1537.9,1114.3 1539.7,1116.7 1541.6,1119.1 1543.4,1121.5 1545.3,1123.8 1547.2,1126.2 1549.1,1128.5 1551.0,1130.8 1552.9,1133.1 1554.8,1135.4 1556.8,1137.7 1558.7,1140.0 1560.7,1142.3 1562.7,1144.5 1564.7,1146.8 1566.7,1149.0 1568.7,1151.3 1570.7,1153.5 1572.8,1155.7 1574.8,1157.9 1576.8,1160.1 1578.9,1162.3 1581.0,1164.4 1583.1,1166.6 1585.2,1168.7 1587.3,1170.8 1589.5,1172.9 1591.7,1174.9 1593.9,1176.9 1596.2,1178.9 1598.4,1180.9 1600.7,1182.9 1603.0,1184.8 1605.3,1186.8 1607.6,1188.7 1609.9,1190.7 1612.2,1192.6 1614.5,1194.5 1616.9,1196.3 1619.3,1198.1 1621.7,1200.0 1624.1,1201.7 1626.5,1203.5 1628.9,1205.3 1631.4,1207.0 1633.8,1208.8 1636.3,1210.5 1638.8,1212.2 1641.3,1213.9 1643.7,1215.6 1646.3,1217.2 1648.8,1218.8 1651.3,1220.4 1653.9,1222.0 1656.5,1223.6 1659.0,1225.1 1661.6,1226.6 1664.2,1228.2 1666.8,1229.7 1669.4,1231.1 1672.1,1232.6 1674.7,1233.9 1677.4,1235.3 1680.1,1236.6 1682.8,1237.8 1685.6,1239.0 1688.4,1240.2 1691.1,1241.3 1693.9,1242.4 1696.7,1243.6 1699.5,1244.7 1702.3,1245.8 1705.1,1246.9 1707.9,1248.0 1710.6,1249.2 1713.4,1250.3 1716.2,1251.4 1719.0,1252.5 1721.8,1253.6 1724.6,1254.8 1727.4,1255.9 1730.2,1257.0 1733.0,1258.1 1735.7,1259.2 1738.5,1260.4 1741.3,1261.5 1744.1,1262.6 1746.9,1263.7 1749.7,1264.8 1752.5,1265.9 1755.3,1267.0 1758.1,1268.1 1760.9,1269.2 1763.7,1270.2 1766.6,1271.2 1769.4,1272.2 1772.2,1273.1 1775.1,1274.0 1778.0,1274.8 1780.9,1275.7 1783.8,1276.5 1786.7,1277.2 1789.6,1278.0 1792.5,1278.8 1795.4,1279.5 1798.3,1280.2 1801.3,1280.9 1804.2,1281.5 1807.1,1282.2 1810.1,1282.8 1813.0,1283.4 1815.9,1284.0 1818.9,1284.6 1821.8,1285.1 1824.8,1285.7 1827.8,1286.2 1830.7,1286.7 1833.7,1287.1 1836.7,1287.6 1839.6,1288.0 1842.6,1288.4 1845.6,1288.7 1848.6,1289.1 1851.6,1289.5 1854.6,1289.8 1857.5,1290.2 1860.5,1290.5 1863.5,1290.9 1866.5,1291.2" fill="none" stroke="#00FF00" stroke-width="6.5" stroke-linejoin="round" />
<polyline points="312.0,1301.5 315.0,1301.5 318.0,1301.5 321.0,1301.5 324.0,1301.5 327.0,1301.5 330.0,1301.5 333.0,1301.5 336.0,1301.5 339.0,1301.5 342.0,1301.5 345.1,1301.4 348.1,1301.4 351.1,1301.3 354.1,1301.2 357.0,1301.0 360.0,1300.8 363.0,1300.5 366.0,1300.2 369.0,1299.9 372.0,1299.6 375.0,1299.3 378.0,1299.0 381.0,1298.7 384.0,1298.4 386.9,1298.1 389.9,1297.8 392.9,1297.4 395.9,1297.1 398.9,1296.7 401.9,1296.3 404.8,1295.9 407.8,1295.6 410.8,1295.2 413.8,1294.8 416.8,1294.4 419.7,1294.0 422.7,1293.6 425.7,1293.1 428.7,1292.7 431.6,1292.2 434.6,1291.7 437.5,1291.2 440.5,1290.6 443.4,1290.0 446.4,1289.4 449.3,1288.8 452.3,1288.2 455.2,1287.5 458.1,1286.9 461.1,1286.2 464.0,1285.6 466.9,1284.9 469.8,1284.2 472.8,1283.5 475.7,1282.7 478.5,1281.9 481.4,1281.1 484.3,1280.2 487.1,1279.3 490.0,1278.3 492.9,1277.4 495.7,1276.4 498.6,1275.5 501.4,1274.5 504.3,1273.6 507.1,1272.6 510.0,1271.7 512.8,1270.7 515.6,1269.7 518.4,1268.6 521.2,1267.5 524.0,1266.4 526.8,1265.2 529.5,1264.0 532.2,1262.7 535.0,1261.5 537.7,1260.2 540.4,1259.0 543.1,1257.7 545.9,1256.5 548.6,1255.2 551.4,1254.0 554.1,1252.8 556.9,1251.6 559.7,1250.5 562.4,1249.4 565.2,1248.2 568.0,1247.1 570.8,1246.0 573.6,1244.8 576.3,1243.6 579.1,1242.4 581.8,1241.1 584.4,1239.8 587.1,1238.4 589.7,1236.9 592.3,1235.4 594.9,1233.9 597.5,1232.3 600.1,1230.8 602.7,1229.3 605.3,1227.8 607.9,1226.4 610.5,1224.9 613.1,1223.5 615.8,1222.0 618.4,1220.5 621.0,1219.1 623.6,1217.6 626.2,1216.1 628.8,1214.6 631.4,1213.1 634.0,1211.5 636.6,1210.0 639.1,1208.3 641.6,1206.6 644.0,1204.9 646.4,1203.1 648.8,1201.3 651.1,1199.4 653.4,1197.5 655.8,1195.6 658.1,1193.8 660.5,1191.9 662.9,1190.1 665.2,1188.2 667.6,1186.4 670.0,1184.6 672.4,1182.8 674.8,1180.9 677.2,1179.1 679.6,1177.3 681.9,1175.4 684.2,1173.5 686.5,1171.6 688.9,1169.6 691.2,1167.7 693.4,1165.8 695.8,1163.8 698.1,1161.9 700.4,1160.0 702.7,1158.1 705.1,1156.2 707.4,1154.4 709.8,1152.5 712.1,1150.7 714.5,1148.8 716.9,1147.0 719.3,1145.2 721.7,1143.3 724.1,1141.5 726.5,1139.7 728.9,1137.9 731.3,1136.1 733.7,1134.3 736.0,1132.5 738.4,1130.6 740.7,1128.6 742.9,1126.7 745.1,1124.6 747.2,1122.5 749.2,1120.3 751.2,1118.1 753.2,1115.8 755.1,1113.5 757.0,1111.1 758.8,1108.8 760.7,1106.5 762.6,1104.1 764.5,1101.8 766.4,1099.5 768.3,1097.2 770.3,1094.9 772.3,1092.6 774.3,1090.4 776.3,1088.2 778.4,1086.0 780.4,1083.8 782.5,1081.6 784.5,1079.4 786.6,1077.2 788.6,1075.0 790.7,1072.8 792.7,1070.6 794.7,1068.4 796.8,1066.2 798.8,1064.0 800.8,1061.7 802.9,1059.5 804.9,1057.3 806.9,1055.1 808.9,1052.9 811.0,1050.6 813.0,1048.4 815.0,1046.2 817.0,1044.0 819.1,1041.8 821.1,1039.6 823.1,1037.4 825.2,1035.1 827.2,1032.9 829.3,1030.7 831.3,1028.5 833.3,1026.3 835.3,1024.1 837.3,1021.8 839.3,1019.5 841.2,1017.3 843.1,1014.9 845.0,1012.6 846.8,1010.2 848.7,1007.8 850.5,1005.5 852.3,1003.1 854.1,1000.7 856.0,998.3 857.8,995.9 859.6,993.5 861.4,991.1 863.3,988.7 865.1,986.4 867.0,984.0 868.8,981.6 870.7,979.3 872.5,976.9 874.4,974.5 876.2,972.1 878.0,969.8 879.9,967.4 881.7,965.0 883.6,962.6 885.4,960.2 887.2,957.9 889.0,955.5 890.8,953.1 892.7,950.7 894.5,948.3 896.3,945.9 898.1,943.5 899.9,941.1 901.7,938.7 903.5,936.3 905.3,933.8 907.0,931.4 908.8,929.0 910.6,926.6 912.3,924.1 914.1,921.7 915.9,919.3 917.6,916.8 919.4,914.4 921.2,912.0 922.9,909.5 924.7,907.1 926.4,904.7 928.2,902.2 929.9,899.7 931.6,897.3 933.3,894.8 935.0,892.3 936.6,889.8 938.3,887.3 940.0,884.8 941.6,882.3 943.3,879.8 945.0,877.3 946.8,874.9 948.5,872.4 950.3,870.0 952.1,867.6 953.8,865.2 955.6,862.8 957.4,860.4 959.2,857.9 961.0,855.5 962.8,853.1 964.6,850.7 966.3,848.3 968.1,845.8 969.9,843.4 971.7,841.0 973.5,838.6 975.2,836.2 977.0,833.7 978.8,831.3 980.6,828.9 982.4,826.5 984.1,824.1 985.9,821.6 987.7,819.2 989.5,816.8 991.3,814.4 993.0,811.9 994.8,809.5 996.6,807.1 998.3,804.6 1000.1,802.2 1001.8,799.7 1003.5,797.2 1005.1,794.7 1006.8,792.2 1008.4,789.7 1010.0,787.2 1011.7,784.7 1013.3,782.1 1014.9,779.6 1016.5,777.1 1018.1,774.5 1019.7,772.0 1021.2,769.4 1022.7,766.8 1024.2,764.2 1025.6,761.5 1027.1,758.9 1028.5,756.3 1030.0,753.6 1031.4,751.0 1032.9,748.4 1034.4,745.8 1035.9,743.2 1037.4,740.6 1038.9,738.0 1040.4,735.4 1041.9,732.8 1043.5,730.2 1045.0,727.6 1046.6,725.1 1048.2,722.5 1049.8,720.0 1051.4,717.4 1052.9,714.9 1054.5,712.3 1056.1,709.8 1057.7,707.2 1059.2,704.6 1060.7,702.0 1062.2,699.4 1063.7,696.8 1065.2,694.2 1066.6,691.6 1068.1,688.9 1069.5,686.3 1070.9,683.6 1072.3,681.0 1073.5,678.3 1074.8,675.5 1075.9,672.8 1076.9,670.0 1078.0,667.2 1079.0,664.4 1080.1,661.6 1081.3,658.9 1082.6,656.2 1084.0,653.6 1085.4,651.0 1086.9,648.4 1088.4,645.8 1090.0,643.2 1091.5,640.6 1093.0,638.0 1094.6,635.4 1096.1,632.8 1097.5,630.2 1099.0,627.6 1100.5,625.0 1102.0,622.4 1103.4,619.8 1104.9,617.1 1106.4,614.5 1107.9,611.9 1109.3,609.3 1110.8,606.7 1112.3,604.1 1113.8,601.4 1115.2,598.8 1116.7,596.2 1118.2,593.6 1119.6,591.0 1121.1,588.3 1122.5,585.7 1123.9,583.0 1125.3,580.3 1126.6,577.7 1128.0,575.0 1129.3,572.3 1130.7,569.6 1132.0,566.9 1133.4,564.3 1134.8,561.6 1136.3,559.0 1137.7,556.3 1139.2,553.7 1140.7,551.1 1142.3,548.6 1143.8,546.0 1145.3,543.4 1146.9,540.8 1148.4,538.2 1150.0,535.7 1151.5,533.1 1153.1,530.5 1154.6,528.0 1156.2,525.4 1157.7,522.8 1159.3,520.2 1160.9,517.7 1162.4,515.1 1163.9,512.5 1165.5,509.9 1167.0,507.3 1168.5,504.7 1170.0,502.1 1171.5,499.5 1173.0,496.9 1174.5,494.3 1176.0,491.7 1177.5,489.1 1179.0,486.5 1180.4,483.9 1181.9,481.2 1183.4,478.6 1184.8,476.0 1186.2,473.3 1187.7,470.7 1189.1,468.0 1190.5,465.4 1191.9,462.8 1193.4,460.1 1194.8,457.5 1196.2,454.8 1197.7,452.2 1199.1,449.5 1200.5,446.9 1201.9,444.3 1203.4,441.6 1204.8,439.0 1206.2,436.3 1207.6,433.6 1209.0,431.0 1210.4,428.3 1211.8,425.7 1213.2,423.0 1214.6,420.3 1215.9,417.7 1217.3,415.0 1218.7,412.3 1220.1,409.7 1221.5,407.0 1222.8,404.3 1224.2,401.7 1225.6,399.0 1226.9,396.3 1228.3,393.6 1229.6,390.9 1230.9,388.2 1232.2,385.5 1233.6,382.8 1234.9,380.1 1236.2,377.4 1237.5,374.7 1238.8,372.0 1240.1,369.3 1241.4,366.6 1242.7,363.9 1244.0,361.2 1245.4,358.5 1246.7,355.8 1248.0,353.1 1249.3,350.4 1250.7,347.7 1252.0,345.0 1253.4,342.4 1254.8,339.7 1256.2,337.0 1257.6,334.4 1259.0,331.7 1260.4,329.1 1261.8,326.4 1263.1,323.7 1264.5,321.0 1265.8,318.3 1267.2,315.6 1268.5,312.9 1269.8,310.2 1271.2,307.6 1272.5,304.9 1273.8,302.2 1275.2,299.5 1276.5,296.8 1277.9,294.1 1279.3,291.5 1280.7,288.8 1282.0,286.1 1283.4,283.5 1284.8,280.8 1286.2,278.1 1287.7,275.5 1289.1,272.9 1290.5,270.2 1292.0,267.6 1293.5,265.0 1294.9,262.4 1296.4,259.7 1297.9,257.1 1299.4,254.5 1300.9,251.9 1302.4,249.3 1303.9,246.7 1305.4,244.1 1306.9,241.5 1308.5,239.0 1310.0,236.4 1311.6,233.8 1313.1,231.2 1314.7,228.7 1316.2,226.1 1317.8,223.5 1319.3,220.9 1320.9,218.4 1322.4,215.8 1324.0,213.2 1325.5,210.6 1327.0,208.0 1328.5,205.4 1329.9,202.8 1331.3,200.1 1332.7,197.5 1334.1,194.8 1335.5,192.1 1336.9,189.5 1338.3,186.8 1339.7,184.2 1341.2,181.6 1342.7,179.0 1344.2,176.4 1345.7,173.8 1347.2,171.2 1348.7,168.6 1350.2,166.0 1351.7,163.3 1353.2,160.7 1354.7,158.1 1356.1,155.5 1357.6,152.9 1359.1,150.2 1360.5,147.6 1362.0,145.0 1364.3,142.9 1366.5,140.8 1368.8,138.6 1371.0,136.5 1373.2,134.3 1375.4,132.1 1377.5,129.9 1379.6,127.6 1381.6,125.3 1383.7,122.9 1385.6,120.6 1387.6,118.2 1389.6,115.8 1391.5,113.4 1393.5,111.0 1395.8,113.0 1398.2,114.9 1400.5,116.9 1402.8,118.8 1405.2,120.7 1407.5,122.7 1409.9,124.6 1412.2,126.5 1414.6,128.5 1416.9,130.4 1419.1,132.4 1421.3,134.5 1423.4,136.7 1425.4,138.9 1427.3,141.2 1429.2,143.6 1430.3,146.4 1431.3,149.2 1432.4,152.0 1433.5,154.8 1434.6,157.6 1435.7,160.4 1436.9,163.1 1438.0,165.9 1439.3,168.6 1440.5,171.4 1441.8,174.1 1443.1,176.8 1444.5,179.5 1445.8,182.1 1447.1,184.8 1448.5,187.5 1449.8,190.2 1451.1,192.9 1452.5,195.6 1453.8,198.3 1455.1,201.0 1456.5,203.6 1457.8,206.3 1459.1,209.0 1460.4,211.7 1461.7,214.5 1462.9,217.2 1464.1,219.9 1465.3,222.7 1466.4,225.5 1467.6,228.2 1468.7,231.0 1469.8,233.8 1470.9,236.6 1472.1,239.4 1473.2,242.2 1474.3,244.9 1475.4,247.7 1476.6,250.5 1477.7,253.3 1478.8,256.1 1479.9,258.9 1481.0,261.6 1482.1,264.4 1483.1,267.3 1484.1,270.1 1485.1,272.9 1486.1,275.7 1487.1,278.6 1488.1,281.4 1489.2,284.2 1490.2,287.0 1491.3,289.8 1492.4,292.6 1493.5,295.4 1494.5,298.2 1495.6,301.0 1496.7,303.8 1497.7,306.6 1498.7,309.5 1499.7,312.3 1500.8,315.1 1501.8,317.9 1502.8,320.7 1503.9,323.5 1505.0,326.3 1506.1,329.1 1507.2,331.9 1508.4,334.7 1509.5,337.4 1510.6,340.2 1511.7,343.0 1512.8,345.8 1513.8,348.6 1514.8,351.4 1515.8,354.2 1516.7,357.1 1517.7,359.9 1518.6,362.8 1519.6,365.6 1520.5,368.5 1521.4,371.3 1522.4,374.2 1523.3,377.0 1524.3,379.9 1525.2,382.7 1526.1,385.6 1527.1,388.4 1528.0,391.3 1529.0,394.1 1529.9,397.0 1530.9,399.8 1531.8,402.7 1532.8,405.5 1533.7,408.4 1534.6,411.2 1535.5,414.1 1536.3,417.0 1537.1,419.9 1537.9,422.7 1538.7,425.6 1539.5,428.5 1540.3,431.4 1541.1,434.3 1542.0,437.2 1542.8,440.1 1543.7,442.9 1544.6,445.8 1545.5,448.6 1546.5,451.5 1547.4,454.3 1548.3,457.2 1549.3,460.1 1550.2,462.9 1551.1,465.8 1552.0,468.6 1553.0,471.5 1553.9,474.3 1554.8,477.2 1555.7,480.0 1556.6,482.9 1557.5,485.8 1558.5,488.6 1559.4,491.5 1560.2,494.4 1561.1,497.2 1562.0,500.1 1562.8,503.0 1563.6,505.9 1564.5,508.7 1565.3,511.6 1566.1,514.5 1566.9,517.4 1567.6,520.3 1568.4,523.2 1569.2,526.1 1569.9,529.0 1570.7,531.9 1571.5,534.8 1572.2,537.7 1573.0,540.6 1573.7,543.5 1574.5,546.4 1575.3,549.3 1576.1,552.2 1576.8,555.1 1577.6,558.0 1578.4,560.9 1579.1,563.8 1579.9,566.7 1580.6,569.7 1581.4,572.6 1582.1,575.5 1582.9,578.4 1583.6,581.3 1584.3,584.2 1585.0,587.1 1585.6,590.0 1586.2,593.0 1586.8,595.9 1587.5,598.9 1588.1,601.8 1588.7,604.7 1589.4,607.7 1590.0,610.6 1590.7,613.5 1591.5,616.4 1592.2,619.3 1592.9,622.2 1593.6,625.1 1594.4,628.1 1595.1,631.0 1595.8,633.9 1596.5,636.8 1597.3,639.7 1598.0,642.6 1598.8,645.5 1599.5,648.4 1600.3,651.3 1601.2,654.2 1602.0,657.0 1602.9,659.9 1603.9,662.8 1604.8,665.6 1605.8,668.5 1606.7,671.3 1607.6,674.2 1608.5,677.0 1609.4,679.9 1610.3,682.7 1611.1,685.6 1611.9,688.5 1612.7,691.4 1613.5,694.3 1614.3,697.2 1615.0,700.1 1615.8,703.0 1616.5,705.9 1617.2,708.9 1617.9,711.8 1618.6,714.7 1619.3,717.6 1620.0,720.5 1620.6,723.5 1621.3,726.4 1622.0,729.3 1622.7,732.2 1623.4,735.1 1624.1,738.1 1624.7,741.0 1625.4,743.9 1626.1,746.8 1626.8,749.7 1627.5,752.7 1628.2,755.6 1628.9,758.5 1629.6,761.4 1630.3,764.3 1631.0,767.3 1631.7,770.2 1632.4,773.1 1633.2,776.0 1633.9,778.9 1634.6,781.8 1635.4,784.7 1636.1,787.6 1636.9,790.5 1637.7,793.4 1638.5,796.3 1639.3,799.2 1640.1,802.1 1641.0,805.0 1641.8,807.8 1642.7,810.7 1643.5,813.6 1644.4,816.5 1645.3,819.3 1646.1,822.2 1647.0,825.1 1647.8,828.0 1648.7,830.8 1649.5,833.7 1650.4,836.6 1651.2,839.5 1652.1,842.4 1652.9,845.2 1653.7,848.1 1654.5,851.0 1655.2,853.9 1655.9,856.9 1656.5,859.8 1657.2,862.7 1657.8,865.7 1658.4,868.6 1659.0,871.5 1659.6,874.5 1660.2,877.4 1660.8,880.4 1661.3,883.3 1661.9,886.2 1662.5,889.2 1663.1,892.1 1663.7,895.1 1664.3,898.0 1664.9,901.0 1665.5,903.9 1666.1,906.8 1666.7,909.8 1667.3,912.7 1667.9,915.7 1668.4,918.6 1669.0,921.5 1669.6,924.5 1670.2,927.4 1670.8,930.4 1671.4,933.3 1672.0,936.3 1672.6,939.2 1673.2,942.1 1673.8,945.1 1674.4,948.0 1675.1,950.9 1675.7,953.9 1676.4,956.8 1677.1,959.7 1677.7,962.6 1678.4,965.6 1679.1,968.5 1679.9,971.4 1680.6,974.3 1681.3,977.2 1682.1,980.1 1682.9,983.0 1683.7,985.9 1684.5,988.8 1685.3,991.7 1686.2,994.6 1687.0,997.4 1687.8,1000.3 1688.7,1003.2 1689.5,1006.1 1690.4,1009.0 1691.2,1011.8 1692.1,1014.7 1693.0,1017.6 1693.9,1020.4 1694.8,1023.3 1695.7,1026.2 1696.6,1029.0 1697.5,1031.9 1698.4,1034.7 1699.3,1037.6 1700.3,1040.4 1701.2,1043.3 1702.1,1046.2 1703.0,1049.0 1703.9,1051.9 1704.9,1054.7 1705.8,1057.6 1706.7,1060.4 1707.7,1063.3 1708.6,1066.1 1709.6,1069.0 1710.5,1071.8 1711.5,1074.7 1712.4,1077.5 1713.4,1080.3 1714.4,1083.2 1715.3,1086.0 1716.3,1088.9 1717.2,1091.7 1718.2,1094.6 1719.2,1097.4 1720.1,1100.2 1721.1,1103.1 1722.1,1105.9 1723.1,1108.7 1724.1,1111.6 1725.1,1114.4 1726.1,1117.2 1727.1,1120.1 1728.1,1122.9 1729.1,1125.7 1730.1,1128.5 1731.1,1131.4 1732.2,1134.2 1733.2,1137.0 1734.2,1139.8 1735.3,1142.6 1736.4,1145.4 1737.5,1148.2 1738.6,1151.0 1739.7,1153.8 1740.9,1156.6 1742.0,1159.3 1743.2,1162.1 1744.4,1164.8 1745.7,1167.5 1746.9,1170.3 1748.2,1173.0 1749.5,1175.7 1750.8,1178.4 1752.2,1181.1 1753.5,1183.7 1754.9,1186.4 1756.2,1189.1 1757.6,1191.7 1759.0,1194.4 1760.5,1197.0 1761.9,1199.7 1763.4,1202.3 1764.9,1204.8 1766.5,1207.4 1768.0,1210.0 1769.6,1212.5 1771.2,1215.1 1772.8,1217.6 1774.5,1220.1 1776.1,1222.6 1777.8,1225.1 1779.6,1227.5 1781.4,1229.9 1783.3,1232.2 1785.2,1234.4 1787.2,1236.6 1789.3,1238.8 1791.4,1240.9 1793.5,1243.0 1795.7,1245.1 1797.9,1247.1 1800.2,1249.1 1802.4,1251.0 1804.8,1252.9 1807.1,1254.7 1809.5,1256.5 1812.0,1258.3 1814.4,1260.1 1816.9,1261.8 1819.3,1263.4 1821.9,1265.1 1824.4,1266.6 1827.0,1268.1 1829.6,1269.6 1832.3,1271.0 1834.9,1272.3 1837.6,1273.6 1840.3,1274.9 1843.0,1276.2 1845.8,1277.4 1848.6,1278.5 1851.4,1279.6 1854.2,1280.5 1857.0,1281.5 1859.9,1282.4 1862.8,1283.3 1865.6,1284.1 1868.5,1285.0" fill="none" stroke="#663333" stroke-width="6.5" stroke-linejoin="round" />
<polyline points="412.0,1300.0 415.0,1299.8 418.0,1299.7 421.0,1299.5 424.0,1299.4 427.0,1299.2 430.0,1299.1 433.0,1298.9 436.0,1298.8 439.0,1298.6 442.0,1298.5 445.0,1298.3 448.0,1298.2 451.0,1298.0 454.0,1297.9 457.0,1297.7 460.0,1297.5 463.0,1297.3 466.0,1297.2 469.0,1297.0 472.0,1296.8 475.0,1296.6 478.0,1296.4 481.0,1296.2 484.0,1295.9 487.0,1295.7 490.0,1295.5 493.0,1295.2 496.0,1295.0 499.0,1294.7 502.0,1294.4 504.9,1294.1 507.9,1293.8 510.9,1293.4 513.9,1293.1 516.9,1292.7 519.9,1292.4 522.8,1292.0 525.8,1291.6 528.8,1291.2 531.8,1290.7 534.8,1290.3 537.7,1289.9 540.7,1289.4 543.7,1289.0 546.6,1288.5 549.6,1288.1 552.6,1287.6 555.5,1287.1 558.5,1286.7 561.5,1286.2 564.4,1285.7 567.4,1285.2 570.4,1284.7 573.3,1284.2 576.3,1283.7 579.3,1283.2 582.2,1282.7 585.2,1282.2 588.1,1281.7 591.1,1281.2 594.1,1280.7 597.0,1280.1 600.0,1279.6 602.9,1279.0 605.9,1278.5 608.8,1277.9 611.8,1277.3 614.7,1276.7 617.7,1276.1 620.6,1275.5 623.5,1274.8 626.5,1274.2 629.4,1273.5 632.3,1272.9 635.3,1272.2 638.2,1271.5 641.1,1270.9 644.1,1270.2 647.0,1269.6 649.9,1268.9 652.9,1268.3 655.8,1267.6 658.7,1267.0 661.7,1266.3 664.6,1265.7 667.5,1265.1 670.5,1264.4 673.4,1263.8 676.3,1263.2 679.3,1262.5 682.2,1261.9 685.1,1261.2 688.1,1260.5 691.0,1259.8 693.9,1259.1 696.8,1258.4 699.7,1257.6 702.6,1256.7 705.4,1255.9 708.3,1255.0 711.2,1254.1 714.0,1253.1 716.9,1252.1 719.7,1251.2 722.5,1250.2 725.4,1249.2 728.2,1248.2 731.1,1247.2 733.9,1246.2 736.7,1245.2 739.6,1244.2 742.4,1243.3 745.2,1242.3 748.1,1241.3 750.9,1240.3 753.7,1239.3 756.6,1238.3 759.4,1237.3 762.2,1236.3 765.1,1235.3 767.9,1234.3 770.8,1233.3 773.6,1232.3 776.4,1231.3 779.3,1230.3 782.1,1229.3 784.9,1228.4 787.8,1227.4 790.6,1226.4 793.4,1225.4 796.3,1224.4 799.1,1223.4 802.0,1222.4 804.8,1221.4 807.6,1220.4 810.5,1219.4 813.3,1218.5 816.2,1217.5 819.0,1216.5 821.9,1215.6 824.7,1214.7 827.6,1213.7 830.4,1212.8 833.3,1211.9 836.2,1211.1 839.0,1210.2 841.9,1209.3 844.8,1208.4 847.7,1207.6 850.6,1206.7 853.4,1205.9 856.3,1205.0 859.2,1204.2 862.1,1203.4 865.0,1202.6 867.9,1201.8 870.8,1201.0 873.7,1200.2 876.6,1199.5 879.5,1198.7 882.4,1198.0 885.3,1197.2 888.3,1196.5 891.2,1195.8 894.1,1195.0 897.0,1194.3 899.9,1193.5 902.8,1192.7 905.7,1191.9 908.6,1191.1 911.5,1190.3 914.4,1189.5 917.3,1188.7 920.1,1187.8 923.0,1187.0 925.9,1186.1 928.8,1185.3 931.7,1184.4 934.5,1183.6 937.4,1182.7 940.3,1181.9 943.2,1181.1 946.1,1180.3 949.0,1179.5 951.9,1178.7 954.8,1177.9 957.7,1177.2 960.6,1176.4 963.5,1175.7 966.4,1174.9 969.4,1174.2 972.3,1173.5 975.2,1172.8 978.1,1172.1 981.0,1171.4 984.0,1170.7 986.9,1170.0 989.8,1169.3 992.7,1168.7 995.7,1168.1 998.6,1167.4 1001.6,1166.8 1004.5,1166.2 1007.5,1165.6 1010.4,1165.0 1013.3,1164.4 1016.3,1163.9 1019.2,1163.3 1022.2,1162.8 1025.2,1162.3 1028.1,1161.8 1031.1,1161.4 1034.1,1160.9 1037.0,1160.6 1040.0,1160.2 1043.0,1159.9 1046.0,1159.6 1049.0,1159.3 1052.0,1159.0 1055.0,1158.7 1058.0,1158.5 1060.9,1158.3 1063.9,1158.1 1066.9,1157.9 1069.9,1157.8 1072.9,1157.7 1075.9,1157.6 1078.9,1157.6 1081.9,1157.6 1084.9,1157.6 1087.9,1157.6 1090.9,1157.7 1093.9,1157.7 1096.9,1157.8 1099.9,1157.8 1103.0,1157.8 1106.0,1157.8 1109.0,1157.8 1112.0,1157.8 1115.0,1157.8 1118.0,1157.8 1121.0,1157.8 1124.0,1157.7 1127.0,1157.7 1130.0,1157.7 1133.0,1157.6 1136.0,1157.6 1139.0,1157.6 1142.0,1157.5 1145.0,1157.6 1148.0,1157.6 1151.0,1157.7 1154.0,1157.8 1157.0,1158.0 1160.0,1158.2 1163.0,1158.5 1165.9,1158.8 1168.9,1159.1 1171.9,1159.5 1174.9,1159.8 1177.9,1160.2 1180.8,1160.6 1183.8,1160.9 1186.8,1161.3 1189.8,1161.7 1192.8,1162.1 1195.7,1162.5 1198.7,1163.0 1201.7,1163.4 1204.6,1163.9 1207.6,1164.5 1210.5,1165.0 1213.5,1165.6 1216.4,1166.3 1219.3,1166.9 1222.2,1167.6 1225.2,1168.3 1228.1,1169.0 1231.0,1169.7 1233.9,1170.5 1236.8,1171.2 1239.8,1171.9 1242.7,1172.6 1245.6,1173.4 1248.5,1174.1 1251.4,1174.8 1254.3,1175.6 1257.2,1176.3 1260.2,1177.0 1263.1,1177.8 1266.0,1178.5 1268.9,1179.3 1271.8,1180.0 1274.7,1180.8 1277.6,1181.6 1280.5,1182.4 1283.4,1183.3 1286.2,1184.1 1289.1,1185.0 1291.9,1186.0 1294.8,1186.9 1297.6,1187.9 1300.4,1188.9 1303.3,1189.9 1306.1,1190.9 1308.9,1191.9 1311.8,1192.9 1314.6,1193.9 1317.5,1194.8 1320.3,1195.8 1323.2,1196.6 1326.1,1197.5 1328.9,1198.3 1331.8,1199.1 1334.7,1199.9 1337.6,1200.7 1340.5,1201.5 1343.4,1202.3 1346.3,1203.0 1349.2,1203.8 1352.2,1204.6 1355.1,1205.3 1358.0,1206.1 1360.9,1206.9 1363.8,1207.6 1366.7,1208.4 1369.6,1209.2 1372.5,1210.0 1375.4,1210.8 1378.3,1211.6 1381.1,1212.5 1384.0,1213.3 1386.9,1214.2 1389.7,1215.1 1392.6,1216.1 1395.4,1217.1 1398.2,1218.1 1401.0,1219.2 1403.8,1220.3 1406.6,1221.3 1409.4,1222.4 1412.2,1223.5 1415.0,1224.6 1417.8,1225.7 1420.6,1226.8 1423.4,1227.9 1426.2,1228.9 1429.1,1229.9 1431.9,1230.9 1434.7,1231.9 1437.6,1232.9 1440.4,1233.8 1443.3,1234.7 1446.2,1235.6 1449.0,1236.5 1451.9,1237.3 1454.8,1238.2 1457.7,1239.1 1460.6,1239.9 1463.4,1240.7 1466.3,1241.5 1469.2,1242.3 1472.1,1243.1 1475.0,1243.9 1477.9,1244.6 1480.9,1245.3 1483.8,1246.1 1486.7,1246.8 1489.6,1247.5 1492.5,1248.2 1495.5,1248.9 1498.4,1249.6 1501.3,1250.3 1504.2,1251.0 1507.1,1251.8 1510.0,1252.5 1512.9,1253.3 1515.8,1254.0 1518.8,1254.8 1521.7,1255.6 1524.6,1256.4 1527.5,1257.1 1530.4,1257.9 1533.3,1258.7 1536.2,1259.5 1539.1,1260.2 1542.0,1261.0 1544.9,1261.8 1547.8,1262.5 1550.7,1263.3 1553.6,1264.0 1556.5,1264.7 1559.4,1265.5 1562.4,1266.1 1565.3,1266.8 1568.2,1267.5 1571.2,1268.1 1574.1,1268.7 1577.0,1269.4 1580.0,1270.0 1582.9,1270.6 1585.9,1271.2 1588.8,1271.7 1591.8,1272.3 1594.7,1272.9 1597.7,1273.5 1600.6,1274.0 1603.6,1274.6 1606.5,1275.1 1609.5,1275.7 1612.4,1276.2 1615.4,1276.7 1618.4,1277.3 1621.3,1277.8 1624.3,1278.3 1627.2,1278.8 1630.2,1279.3 1633.2,1279.8 1636.1,1280.3 1639.1,1280.8 1642.1,1281.2 1645.0,1281.7 1648.0,1282.1 1651.0,1282.6 1654.0,1283.0 1656.9,1283.4 1659.9,1283.8 1662.9,1284.1 1665.9,1284.5 1668.8,1284.9 1671.8,1285.3 1674.8,1285.7 1677.8,1286.0 1680.8,1286.4 1683.8,1286.8 1686.7,1287.2 1689.7,1287.5 1692.7,1287.9 1695.7,1288.3 1698.7,1288.7 1701.6,1289.0 1704.6,1289.4 1707.6,1289.8 1710.6,1290.1 1713.6,1290.5 1716.6,1290.8 1719.5,1291.2 1722.5,1291.5 1725.5,1291.8 1728.5,1292.1 1731.5,1292.4 1734.5,1292.7 1737.5,1293.0 1740.5,1293.2 1743.5,1293.4 1746.5,1293.7 1749.5,1293.9 1752.5,1294.1 1755.5,1294.4 1758.4,1294.6 1761.4,1294.8 1764.4,1295.0 1767.4,1295.2 1770.4,1295.4 1773.4,1295.5 1776.4,1295.7 1779.4,1295.9 1782.4,1296.1 1785.4,1296.2 1788.4,1296.4 1791.4,1296.5 1794.4,1296.6 1797.4,1296.7 1800.4,1296.9 1803.5,1297.0 1806.5,1297.1 1809.5,1297.1 1812.5,1297.2 1815.5,1297.3 1818.5,1297.4 1821.5,1297.4 1824.5,1297.5 1827.5,1297.6 1830.5,1297.6 1833.5,1297.7 1836.5,1297.7 1839.5,1297.8" fill="none" stroke="#9900CC" stroke-width="6.5" stroke-linejoin="round" />
<polyline points="362.0,1305.5 365.0,1305.4 368.0,1305.4 371.0,1305.3 374.0,1305.3 377.0,1305.2 380.0,1305.2 383.0,1305.1 386.0,1305.1 389.0,1305.0 392.0,1304.9 395.0,1304.9 398.0,1304.8 401.0,1304.8 404.0,1304.7 407.0,1304.7 410.0,1304.6 413.0,1304.6 416.0,1304.5 419.0,1304.5 422.0,1304.4 425.0,1304.3 428.0,1304.3 431.1,1304.2 434.1,1304.2 437.1,1304.1 440.1,1304.1 443.1,1304.0 446.1,1303.9 449.1,1303.9 452.1,1303.8 455.1,1303.7 458.1,1303.7 461.1,1303.6 464.1,1303.5 467.1,1303.4 470.1,1303.3 473.1,1303.1 476.1,1303.0 479.1,1302.9 482.1,1302.8 485.1,1302.6 488.1,1302.5 491.1,1302.3 494.1,1302.2 497.1,1302.0 500.1,1301.9 503.1,1301.7 506.1,1301.6 509.1,1301.4 512.1,1301.3 515.1,1301.1 518.1,1301.0 521.1,1300.9 524.1,1300.7 527.1,1300.5 530.1,1300.4 533.1,1300.2 536.1,1300.1 539.1,1299.9 542.1,1299.7 545.0,1299.6 548.0,1299.4 551.0,1299.2 554.0,1299.0 557.0,1298.8 560.0,1298.6 563.0,1298.4 566.0,1298.2 569.0,1297.9 572.0,1297.7 575.0,1297.5 578.0,1297.3 581.0,1297.1 584.0,1296.8 587.0,1296.6 590.0,1296.4 593.0,1296.2 596.0,1295.9 599.0,1295.7 602.0,1295.5 604.9,1295.3 607.9,1295.1 610.9,1294.8 613.9,1294.6 616.9,1294.4 619.9,1294.2 622.9,1294.0 625.9,1293.8 628.9,1293.6 631.9,1293.4 634.9,1293.2 637.9,1293.1 640.9,1292.9 643.9,1292.7 646.9,1292.6 649.9,1292.4 652.9,1292.3 655.9,1292.1 658.9,1292.0 661.9,1291.8 664.9,1291.7 667.9,1291.5 670.9,1291.4 673.9,1291.3 676.9,1291.1 679.9,1291.0 682.9,1290.8 685.9,1290.7 688.9,1290.5 691.9,1290.3 694.9,1290.2 697.9,1290.0 700.9,1289.9 703.9,1289.7 706.9,1289.5 709.9,1289.3 712.9,1289.1 715.9,1289.0 718.9,1288.8 721.9,1288.6 724.9,1288.4 727.9,1288.2 730.8,1288.0 733.8,1287.8 736.8,1287.6 739.8,1287.4 742.8,1287.2 745.8,1287.0 748.8,1286.9 751.8,1286.7 754.8,1286.5 757.8,1286.3 760.8,1286.1 763.8,1285.9 766.8,1285.7 769.8,1285.5 772.8,1285.3 775.8,1285.1 778.8,1284.9 781.8,1284.7 784.8,1284.5 787.8,1284.3 790.8,1284.1 793.8,1283.9 796.8,1283.7 799.8,1283.5 802.8,1283.3 805.8,1283.1 808.8,1282.9 811.8,1282.7 814.7,1282.6 817.7,1282.4 820.7,1282.2 823.7,1282.0 826.7,1281.8 829.7,1281.7 832.7,1281.5 835.7,1281.4 838.7,1281.2 841.7,1281.0 844.7,1280.9 847.7,1280.7 850.7,1280.6 853.7,1280.4 856.7,1280.3 859.7,1280.1 862.7,1280.0 865.7,1279.8 868.7,1279.7 871.7,1279.6 874.7,1279.4 877.7,1279.3 880.7,1279.2 883.7,1279.1 886.7,1279.0 889.7,1278.9 892.7,1278.8 895.7,1278.7 898.7,1278.6 901.7,1278.6 904.7,1278.5 907.7,1278.5 910.7,1278.4 913.7,1278.4 916.7,1278.3 919.7,1278.3 922.7,1278.2 925.7,1278.2 928.7,1278.1 931.7,1278.1 934.8,1278.0 937.8,1278.0 940.8,1278.0 943.8,1277.9 946.8,1277.9 949.8,1277.9 952.8,1277.9 955.8,1277.8 958.8,1277.8 961.8,1277.8 964.8,1277.8 967.8,1277.8 970.8,1277.8 973.8,1277.8 976.8,1277.8 979.8,1277.8 982.8,1277.8 985.8,1277.8 988.8,1277.8 991.8,1277.8 994.8,1277.8 997.8,1277.9 1000.8,1277.9 1003.8,1277.9 1006.8,1278.0 1009.8,1278.1 1012.8,1278.1 1015.8,1278.2 1018.8,1278.3 1021.8,1278.4 1024.8,1278.6 1027.8,1278.7 1030.8,1278.8 1033.8,1279.0 1036.8,1279.1 1039.8,1279.3 1042.8,1279.4 1045.8,1279.6 1048.8,1279.7 1051.8,1279.8 1054.8,1280.0 1057.8,1280.1 1060.8,1280.3 1063.8,1280.4 1066.8,1280.5 1069.8,1280.6 1072.8,1280.8 1075.8,1280.9 1078.8,1281.0 1081.8,1281.1 1084.8,1281.2 1087.8,1281.3 1090.8,1281.4 1093.8,1281.5 1096.8,1281.6 1099.8,1281.7 1102.8,1281.8 1105.8,1281.9 1108.8,1282.1 1111.8,1282.2 1114.8,1282.4 1117.8,1282.5 1120.8,1282.7 1123.8,1282.9 1126.8,1283.0 1129.8,1283.2 1132.8,1283.3 1135.8,1283.5 1138.8,1283.7 1141.8,1283.9 1144.8,1284.0 1147.8,1284.2 1150.8,1284.4 1153.8,1284.5 1156.8,1284.7 1159.8,1284.8 1162.8,1285.0 1165.8,1285.2 1168.8,1285.3 1171.8,1285.5 1174.8,1285.6 1177.8,1285.8 1180.8,1285.9 1183.8,1286.1 1186.8,1286.2 1189.8,1286.4 1192.8,1286.5 1195.8,1286.7 1198.8,1286.8 1201.8,1287.0 1204.8,1287.1 1207.8,1287.3 1210.8,1287.4 1213.8,1287.6 1216.8,1287.7 1219.8,1287.9 1222.8,1288.1 1225.8,1288.2 1228.8,1288.4 1231.8,1288.5 1234.8,1288.7 1237.7,1288.9 1240.7,1289.0 1243.7,1289.2 1246.7,1289.4 1249.7,1289.5 1252.7,1289.7 1255.7,1289.9 1258.7,1290.0 1261.7,1290.2 1264.7,1290.4 1267.7,1290.5 1270.7,1290.7 1273.7,1290.9 1276.7,1291.0 1279.7,1291.2 1282.7,1291.3 1285.7,1291.5 1288.7,1291.6 1291.7,1291.8 1294.7,1291.9 1297.7,1292.1 1300.7,1292.2 1303.7,1292.3 1306.7,1292.5 1309.7,1292.6 1312.7,1292.7 1315.7,1292.9 1318.7,1293.0 1321.7,1293.1 1324.7,1293.3 1327.7,1293.4 1330.7,1293.5 1333.7,1293.7 1336.7,1293.8 1339.7,1293.9 1342.7,1294.1 1345.7,1294.2 1348.7,1294.4 1351.7,1294.5 1354.7,1294.6 1357.7,1294.8 1360.7,1294.9 1363.7,1295.1 1366.7,1295.2 1369.7,1295.4 1372.7,1295.5 1375.7,1295.7 1378.7,1295.8 1381.7,1296.0 1384.7,1296.1 1387.7,1296.3 1390.7,1296.4 1393.7,1296.6 1396.7,1296.7 1399.7,1296.8 1402.7,1297.0 1405.7,1297.1 1408.7,1297.3 1411.7,1297.4 1414.7,1297.6 1417.7,1297.7 1420.7,1297.8 1423.7,1298.0 1426.7,1298.1 1429.7,1298.2 1432.7,1298.4 1435.7,1298.5 1438.7,1298.6 1441.7,1298.8 1444.7,1298.9 1447.7,1299.0 1450.7,1299.2 1453.7,1299.3 1456.7,1299.4 1459.7,1299.5 1462.7,1299.6 1465.7,1299.8 1468.7,1299.9 1471.7,1300.0 1474.7,1300.1 1477.7,1300.2 1480.7,1300.2 1483.7,1300.3 1486.7,1300.4 1489.7,1300.5 1492.7,1300.6 1495.7,1300.7 1498.7,1300.8 1501.7,1300.8 1504.7,1300.9 1507.7,1301.0 1510.7,1301.1 1513.7,1301.1 1516.7,1301.2 1519.7,1301.3 1522.7,1301.4 1525.7,1301.4 1528.7,1301.5 1531.7,1301.6 1534.7,1301.6 1537.7,1301.7 1540.7,1301.7 1543.7,1301.8 1546.7,1301.8 1549.7,1301.8 1552.7,1301.9 1555.7,1301.9 1558.8,1302.0 1561.8,1302.0 1564.8,1302.0 1567.8,1302.1 1570.8,1302.1 1573.8,1302.2 1576.8,1302.2 1579.8,1302.2 1582.8,1302.3 1585.8,1302.3 1588.8,1302.3 1591.8,1302.4 1594.8,1302.4 1597.8,1302.4 1600.8,1302.5 1603.8,1302.5 1606.8,1302.5 1609.8,1302.6 1612.8,1302.6 1615.8,1302.6 1618.8,1302.6 1621.8,1302.7 1624.8,1302.7 1627.8,1302.7 1630.8,1302.7 1633.8,1302.8 1636.8,1302.8 1639.8,1302.8 1642.8,1302.8 1645.8,1302.9 1648.8,1302.9 1651.8,1302.9 1654.8,1302.9 1657.8,1303.0 1660.8,1303.0 1663.8,1303.0 1666.8,1303.0 1669.8,1303.1 1672.9,1303.1 1675.9,1303.1 1678.9,1303.1 1681.9,1303.2 1684.9,1303.2 1687.9,1303.2 1690.9,1303.2 1693.9,1303.2 1696.9,1303.2 1699.9,1303.3 1702.9,1303.3 1705.9,1303.3 1708.9,1303.3 1711.9,1303.3 1714.9,1303.3 1717.9,1303.3 1720.9,1303.3 1723.9,1303.3 1726.9,1303.3 1729.9,1303.3 1732.9,1303.3 1735.9,1303.4 1738.9,1303.4 1741.9,1303.4 1744.9,1303.4 1747.9,1303.4 1750.9,1303.4 1753.9,1303.4 1756.9,1303.4 1759.9,1303.4 1762.9,1303.4 1765.9,1303.4 1768.9,1303.4 1771.9,1303.4 1774.9,1303.4 1777.9,1303.4 1781.0,1303.4 1784.0,1303.4 1787.0,1303.4 1790.0,1303.4 1793.0,1303.4 1796.0,1303.4 1799.0,1303.4 1802.0,1303.5 1805.0,1303.5 1808.0,1303.5 1811.0,1303.5 1814.0,1303.5 1817.0,1303.5 1820.0,1303.5 1823.0,1303.5 1826.0,1303.5 1829.0,1303.5 1832.0,1303.5 1835.0,1303.5" fill="none" stroke="#FF6600" stroke-width="6.5" stroke-linejoin="round" />
<polyline points="355.0,1305.0 358.0,1304.9 361.0,1304.7 364.0,1304.6 367.0,1304.4 370.0,1304.3 373.0,1304.1 376.0,1304.0 379.0,1303.8 382.0,1303.7 385.0,1303.5 388.0,1303.4 391.0,1303.2 394.0,1303.1 397.0,1302.9 400.0,1302.8 403.0,1302.6 406.0,1302.5 409.0,1302.3 412.0,1302.2 415.0,1302.1 418.0,1301.9 421.0,1301.8 424.0,1301.6 427.0,1301.5 430.0,1301.3 433.0,1301.2 436.0,1301.0 439.0,1300.9 442.0,1300.7 445.0,1300.6 448.0,1300.4 451.0,1300.3 454.0,1300.1 457.0,1300.0 460.0,1299.8 463.0,1299.7 466.0,1299.5 469.0,1299.4 472.0,1299.2 475.0,1299.0 478.0,1298.9 481.0,1298.7 484.0,1298.5 486.9,1298.4 489.9,1298.2 492.9,1298.0 495.9,1297.8 498.9,1297.6 501.9,1297.4 504.9,1297.2 507.9,1297.0 510.9,1296.8 513.9,1296.6 516.9,1296.4 519.9,1296.2 522.9,1296.0 525.9,1295.8 528.9,1295.6 531.9,1295.4 534.9,1295.2 537.9,1295.0 540.9,1294.8 543.9,1294.5 546.9,1294.3 549.9,1294.1 552.9,1293.9 555.8,1293.6 558.8,1293.4 561.8,1293.2 564.8,1292.9 567.8,1292.7 570.8,1292.4 573.8,1292.2 576.8,1291.9 579.8,1291.7 582.8,1291.4 585.8,1291.2 588.8,1290.9 591.8,1290.7 594.7,1290.4 597.7,1290.2 600.7,1289.9 603.7,1289.6 606.7,1289.4 609.7,1289.1 612.7,1288.8 615.7,1288.5 618.7,1288.3 621.7,1288.0 624.6,1287.7 627.6,1287.4 630.6,1287.1 633.6,1286.8 636.6,1286.5 639.6,1286.1 642.6,1285.8 645.5,1285.5 648.5,1285.1 651.5,1284.7 654.5,1284.4 657.5,1284.0 660.4,1283.6 663.4,1283.1 666.4,1282.7 669.3,1282.3 672.3,1281.8 675.3,1281.4 678.2,1280.9 681.2,1280.5 684.2,1280.0 687.2,1279.6 690.1,1279.1 693.1,1278.7 696.1,1278.3 699.0,1277.9 702.0,1277.5 705.0,1277.1 708.0,1276.7 711.0,1276.4 713.9,1276.0 716.9,1275.7 719.9,1275.4 722.9,1275.0 725.9,1274.7 728.9,1274.4 731.8,1274.0 734.8,1273.7 737.8,1273.4 740.8,1273.1 743.8,1272.7 746.8,1272.4 749.7,1272.1 752.7,1271.7 755.7,1271.4 758.7,1271.1 761.7,1270.8 764.7,1270.4 767.7,1270.1 770.6,1269.8 773.6,1269.5 776.6,1269.2 779.6,1268.9 782.6,1268.6 785.6,1268.3 788.6,1268.1 791.6,1267.8 794.6,1267.6 797.6,1267.3 800.5,1267.1 803.5,1266.9 806.5,1266.7 809.5,1266.4 812.5,1266.2 815.5,1266.0 818.5,1265.8 821.5,1265.6 824.5,1265.4 827.5,1265.2 830.5,1265.1 833.5,1264.9 836.5,1264.7 839.5,1264.6 842.5,1264.4 845.5,1264.3 848.5,1264.2 851.5,1264.0 854.5,1263.9 857.5,1263.8 860.5,1263.7 863.5,1263.6 866.5,1263.5 869.5,1263.4 872.5,1263.3 875.5,1263.2 878.5,1263.2 881.5,1263.1 884.5,1263.1 887.5,1263.0 890.5,1263.0 893.5,1262.9 896.5,1262.9 899.5,1262.9 902.5,1262.8 905.5,1262.8 908.5,1262.8 911.5,1262.8 914.5,1262.8 917.5,1262.8 920.5,1262.8 923.5,1262.8 926.5,1262.8 929.5,1262.8 932.5,1262.9 935.5,1262.9 938.5,1262.9 941.5,1262.9 944.5,1263.0 947.5,1263.0 950.6,1263.1 953.6,1263.2 956.6,1263.2 959.6,1263.3 962.6,1263.4 965.6,1263.5 968.6,1263.6 971.6,1263.7 974.6,1263.8 977.6,1263.9 980.6,1264.0 983.6,1264.1 986.6,1264.3 989.6,1264.4 992.6,1264.5 995.6,1264.6 998.6,1264.8 1001.6,1264.9 1004.6,1265.1 1007.6,1265.2 1010.6,1265.4 1013.6,1265.5 1016.6,1265.7 1019.5,1265.9 1022.5,1266.1 1025.5,1266.3 1028.5,1266.5 1031.5,1266.7 1034.5,1266.9 1037.5,1267.2 1040.5,1267.4 1043.5,1267.7 1046.5,1267.9 1049.5,1268.2 1052.5,1268.5 1055.5,1268.8 1058.4,1269.0 1061.4,1269.3 1064.4,1269.6 1067.4,1269.8 1070.4,1270.0 1073.4,1270.3 1076.4,1270.5 1079.4,1270.7 1082.4,1270.9 1085.4,1271.1 1088.4,1271.3 1091.4,1271.5 1094.4,1271.6 1097.4,1271.8 1100.4,1272.0 1103.4,1272.3 1106.3,1272.5 1109.3,1272.7 1112.3,1273.0 1115.3,1273.2 1118.3,1273.4 1121.3,1273.7 1124.3,1274.0 1127.3,1274.2 1130.3,1274.5 1133.3,1274.7 1136.3,1275.0 1139.3,1275.3 1142.2,1275.5 1145.2,1275.8 1148.2,1276.1 1151.2,1276.3 1154.2,1276.6 1157.2,1276.8 1160.2,1277.1 1163.2,1277.4 1166.2,1277.6 1169.2,1277.9 1172.2,1278.1 1175.2,1278.4 1178.1,1278.6 1181.1,1278.9 1184.1,1279.1 1187.1,1279.4 1190.1,1279.6 1193.1,1279.9 1196.1,1280.1 1199.1,1280.4 1202.1,1280.6 1205.1,1280.9 1208.1,1281.1 1211.1,1281.4 1214.1,1281.6 1217.0,1281.9 1220.0,1282.1 1223.0,1282.4 1226.0,1282.6 1229.0,1282.8 1232.0,1283.1 1235.0,1283.3 1238.0,1283.5 1241.0,1283.7 1244.0,1284.0 1247.0,1284.2 1250.0,1284.4 1253.0,1284.6 1256.0,1284.9 1259.0,1285.1 1262.0,1285.3 1265.0,1285.5 1267.9,1285.7 1270.9,1286.0 1273.9,1286.2 1276.9,1286.4 1279.9,1286.6 1282.9,1286.8 1285.9,1287.0 1288.9,1287.2 1291.9,1287.4 1294.9,1287.6 1297.9,1287.9 1300.9,1288.1 1303.9,1288.3 1306.9,1288.5 1309.9,1288.7 1312.9,1288.9 1315.9,1289.1 1318.9,1289.3 1321.9,1289.4 1324.9,1289.6 1327.9,1289.8 1330.9,1290.0 1333.9,1290.2 1336.8,1290.4 1339.8,1290.6 1342.8,1290.8 1345.8,1291.0 1348.8,1291.2 1351.8,1291.4 1354.8,1291.6 1357.8,1291.8 1360.8,1292.0 1363.8,1292.2 1366.8,1292.4 1369.8,1292.6 1372.8,1292.8 1375.8,1293.0 1378.8,1293.3 1381.8,1293.5 1384.8,1293.7 1387.8,1293.9 1390.8,1294.0 1393.8,1294.2 1396.8,1294.4 1399.8,1294.6 1402.8,1294.8 1405.8,1295.0 1408.8,1295.2 1411.8,1295.3 1414.7,1295.5 1417.7,1295.6 1420.7,1295.8 1423.7,1295.9 1426.7,1296.1 1429.7,1296.2 1432.7,1296.3 1435.7,1296.5 1438.7,1296.6 1441.7,1296.7 1444.7,1296.9 1447.7,1297.0 1450.7,1297.1 1453.7,1297.2 1456.7,1297.4 1459.7,1297.5 1462.7,1297.6 1465.7,1297.8 1468.7,1297.9 1471.7,1298.0 1474.7,1298.2 1477.7,1298.3 1480.7,1298.4 1483.7,1298.6 1486.7,1298.7 1489.7,1298.8 1492.7,1299.0 1495.7,1299.1 1498.7,1299.2 1501.7,1299.3 1504.7,1299.5 1507.7,1299.6 1510.7,1299.7 1513.7,1299.8 1516.7,1299.9 1519.7,1300.0 1522.7,1300.1 1525.7,1300.2 1528.7,1300.3 1531.7,1300.4 1534.7,1300.4 1537.8,1300.5 1540.8,1300.6 1543.8,1300.6 1546.8,1300.7 1549.8,1300.7 1552.8,1300.8 1555.8,1300.9 1558.8,1300.9 1561.8,1301.0 1564.8,1301.0 1567.8,1301.0 1570.8,1301.1 1573.8,1301.1 1576.8,1301.2 1579.8,1301.2 1582.8,1301.3 1585.8,1301.3 1588.8,1301.4 1591.8,1301.4 1594.8,1301.4 1597.8,1301.5 1600.8,1301.5 1603.8,1301.6 1606.8,1301.6 1609.8,1301.6 1612.8,1301.7 1615.8,1301.7 1618.8,1301.7 1621.8,1301.8 1624.8,1301.8 1627.8,1301.8 1630.8,1301.9 1633.8,1301.9 1636.8,1301.9 1639.8,1301.9 1642.8,1301.9 1645.8,1302.0 1648.8,1302.0 1651.8,1302.0 1654.8,1302.0 1657.8,1302.0 1660.8,1302.1 1663.8,1302.1 1666.9,1302.1 1669.9,1302.1 1672.9,1302.1 1675.9,1302.1 1678.9,1302.2 1681.9,1302.2 1684.9,1302.2 1687.9,1302.2 1690.9,1302.2 1693.9,1302.2 1696.9,1302.3 1699.9,1302.3 1702.9,1302.3 1705.9,1302.3 1708.9,1302.3 1711.9,1302.3 1714.9,1302.3 1717.9,1302.3 1720.9,1302.3 1723.9,1302.3 1726.9,1302.3 1729.9,1302.3 1732.9,1302.3 1735.9,1302.4 1738.9,1302.4 1741.9,1302.4 1744.9,1302.4 1747.9,1302.4 1750.9,1302.4 1753.9,1302.4 1756.9,1302.4 1759.9,1302.4 1762.9,1302.4 1765.9,1302.4 1768.9,1302.4 1771.9,1302.4 1774.9,1302.4 1777.9,1302.4 1781.0,1302.4 1784.0,1302.4 1787.0,1302.4 1790.0,1302.4 1793.0,1302.4 1796.0,1302.4 1799.0,1302.4 1802.0,1302.5 1805.0,1302.5 1808.0,1302.5 1811.0,1302.5 1814.0,1302.5 1817.0,1302.5 1820.0,1302.5 1823.0,1302.5 1826.0,1302.5 1829.0,1302.5 1832.0,1302.5 1835.0,1302.5" fill="none" stroke="#FF0000" stroke-width="6.5" stroke-linejoin="round" stroke-dasharray="19 12.3"/>
<polyline points="300.0,1303.2 303.0,1303.0 306.0,1302.9 309.0,1302.8 312.0,1302.7 315.0,1302.6 318.0,1302.6 321.0,1302.5 324.0,1302.5 327.0,1302.5 330.0,1302.5 333.0,1302.4 336.0,1302.4 339.0,1302.3 342.0,1302.1 345.0,1301.9 348.0,1301.7 351.0,1301.5 354.0,1301.3 357.0,1301.0 360.0,1300.7 363.0,1300.5 366.0,1300.2 369.0,1300.0 372.0,1299.7 375.0,1299.4 377.9,1299.1 380.9,1298.8 383.9,1298.4 386.9,1298.0 389.9,1297.7 392.9,1297.3 395.8,1296.9 398.8,1296.5 401.8,1296.1 404.8,1295.7 407.7,1295.2 410.7,1294.7 413.6,1294.2 416.6,1293.7 419.5,1293.0 422.5,1292.4 425.4,1291.7 428.3,1291.1 431.2,1290.4 434.2,1289.7 437.1,1289.1 440.0,1288.5 443.0,1287.9 445.9,1287.2 448.9,1286.6 451.8,1286.0 454.7,1285.3 457.6,1284.6 460.5,1283.8 463.4,1283.0 466.3,1282.2 469.2,1281.4 472.1,1280.6 475.0,1279.8 477.9,1278.9 480.7,1278.0 483.6,1277.1 486.4,1276.2 489.2,1275.1 492.0,1274.0 494.7,1272.8 497.4,1271.5 500.1,1270.2 502.8,1268.9 505.5,1267.7 508.3,1266.5 511.1,1265.4 513.9,1264.4 516.7,1263.4 519.5,1262.4 522.4,1261.4 525.2,1260.5 528.1,1259.5 530.9,1258.5 533.7,1257.4 536.5,1256.4 539.3,1255.3 542.1,1254.2 544.9,1253.1 547.7,1251.9 550.5,1250.8 553.2,1249.7 556.0,1248.5 558.7,1247.3 561.5,1246.0 564.2,1244.7 566.8,1243.4 569.5,1242.0 572.1,1240.5 574.8,1239.1 577.4,1237.6 580.0,1236.1 582.6,1234.6 585.2,1233.1 587.8,1231.6 590.4,1230.1 592.9,1228.5 595.5,1226.9 598.1,1225.4 600.6,1223.8 603.2,1222.2 605.7,1220.6 608.2,1219.0 610.8,1217.3 613.3,1215.7 615.8,1214.0 618.3,1212.4 620.8,1210.7 623.3,1209.0 625.7,1207.3 628.2,1205.6 630.7,1203.9 633.1,1202.2 635.6,1200.5 638.1,1198.7 640.5,1197.0 643.0,1195.3 645.5,1193.6 647.9,1191.9 650.4,1190.2 652.9,1188.5 655.4,1186.8 657.9,1185.2 660.4,1183.5 662.9,1181.8 665.3,1180.1 667.8,1178.4 670.2,1176.6 672.6,1174.8 674.9,1172.9 677.2,1171.0 679.4,1168.9 681.5,1166.9 683.7,1164.8 685.8,1162.6 687.9,1160.5 690.1,1158.4 692.3,1156.4 694.5,1154.3 696.7,1152.3 698.9,1150.3 701.1,1148.3 703.4,1146.3 705.6,1144.3 707.9,1142.3 710.1,1140.3 712.3,1138.3 714.6,1136.2 716.8,1134.2 719.0,1132.2 721.2,1130.2 723.4,1128.1 725.6,1126.1 727.8,1124.1 730.1,1122.0 732.3,1120.0 734.5,1117.9 736.7,1115.9 738.9,1113.8 741.0,1111.8 743.2,1109.7 745.3,1107.6 747.4,1105.4 749.5,1103.3 751.5,1101.1 753.5,1098.8 755.5,1096.5 757.4,1094.3 759.4,1092.0 761.3,1089.7 763.2,1087.4 765.2,1085.1 767.1,1082.8 769.1,1080.5 771.0,1078.2 773.0,1075.9 775.0,1073.7 776.9,1071.4 778.9,1069.2 781.0,1066.9 783.0,1064.7 785.0,1062.5 787.0,1060.3 789.1,1058.1 791.1,1055.9 793.1,1053.6 795.2,1051.4 797.2,1049.2 799.2,1047.0 801.2,1044.8 803.2,1042.5 805.2,1040.3 807.2,1038.1 809.2,1035.8 811.2,1033.6 813.3,1031.4 815.4,1029.2 817.5,1027.1 819.7,1025.1 821.8,1023.0 824.0,1021.0 826.2,1018.9 828.3,1016.8 830.3,1014.6 832.2,1012.4 834.1,1010.0 835.9,1007.6 837.7,1005.2 839.4,1002.8 841.2,1000.4 843.0,997.9 844.7,995.5 846.5,993.1 848.3,990.7 850.1,988.3 851.9,985.9 853.7,983.4 855.4,981.0 857.2,978.6 859.0,976.1 860.7,973.7 862.5,971.3 864.3,968.8 866.0,966.4 867.8,964.0 869.6,961.6 871.3,959.1 873.1,956.7 874.9,954.3 876.7,951.9 878.4,949.4 880.2,947.0 881.9,944.6 883.7,942.1 885.4,939.6 887.1,937.2 888.7,934.7 890.4,932.2 892.1,929.7 893.7,927.1 895.4,924.6 897.0,922.1 898.7,919.7 900.4,917.2 902.1,914.7 903.8,912.2 905.6,909.8 907.3,907.3 909.0,904.9 910.7,902.4 912.4,899.9 914.1,897.4 915.8,894.9 917.5,892.4 919.1,889.9 920.7,887.4 922.3,884.8 923.9,882.3 925.5,879.8 927.2,877.2 928.8,874.7 930.5,872.3 932.2,869.8 934.0,867.4 935.8,865.0 937.5,862.5 939.3,860.1 941.1,857.7 942.8,855.2 944.5,852.8 946.2,850.3 947.9,847.8 949.5,845.3 951.2,842.8 952.8,840.2 954.4,837.7 956.0,835.2 957.6,832.6 959.2,830.1 960.8,827.5 962.4,825.0 964.0,822.4 965.6,819.9 967.2,817.4 968.8,814.8 970.4,812.3 972.1,809.8 973.7,807.3 975.4,804.7 977.0,802.2 978.7,799.7 980.3,797.2 981.9,794.7 983.6,792.2 985.2,789.6 986.8,787.1 988.3,784.5 989.9,781.9 991.5,779.4 993.0,776.8 994.6,774.3 996.2,771.7 997.8,769.2 999.4,766.6 1001.0,764.1 1002.6,761.6 1004.2,759.0 1005.8,756.5 1007.3,753.9 1008.9,751.3 1010.4,748.7 1011.8,746.1 1013.3,743.5 1014.7,740.8 1016.2,738.2 1017.6,735.5 1019.0,732.9 1020.3,730.2 1021.6,727.5 1022.9,724.8 1024.1,722.0 1025.3,719.3 1026.5,716.5 1027.8,713.8 1029.0,711.1 1030.3,708.3 1031.6,705.7 1033.0,703.0 1034.4,700.4 1035.9,697.7 1037.4,695.1 1038.9,692.5 1040.4,689.9 1041.9,687.3 1043.4,684.7 1044.9,682.1 1046.4,679.5 1047.9,676.9 1049.3,674.3 1050.8,671.7 1052.3,669.1 1053.8,666.4 1055.3,663.8 1056.8,661.2 1058.3,658.6 1059.8,656.0 1061.3,653.5 1062.9,650.9 1064.4,648.3 1065.9,645.7 1067.5,643.1 1069.0,640.6 1070.6,638.0 1072.1,635.4 1073.6,632.8 1075.2,630.2 1076.7,627.6 1078.2,625.1 1079.8,622.5 1081.3,619.9 1082.8,617.3 1084.4,614.7 1085.9,612.1 1087.4,609.6 1089.0,607.0 1090.5,604.4 1092.0,601.8 1093.5,599.2 1095.0,596.6 1096.5,594.0 1098.0,591.4 1099.4,588.7 1100.9,586.1 1102.3,583.4 1103.6,580.8 1105.0,578.1 1106.3,575.4 1107.7,572.7 1109.0,570.0 1110.2,567.3 1111.5,564.6 1112.7,561.8 1114.0,559.1 1115.2,556.3 1116.4,553.6 1117.6,550.9 1118.9,548.1 1120.1,545.4 1121.3,542.6 1122.5,539.9 1123.8,537.1 1125.0,534.4 1126.2,531.7 1127.5,529.0 1128.8,526.3 1130.2,523.6 1131.6,520.9 1133.0,518.3 1134.4,515.6 1135.9,513.0 1137.4,510.4 1138.8,507.8 1140.3,505.1 1141.7,502.5 1143.1,499.8 1144.5,497.2 1145.8,494.5 1147.2,491.8 1148.6,489.1 1149.9,486.5 1151.3,483.8 1152.7,481.1 1154.1,478.5 1155.6,475.9 1157.1,473.3 1158.6,470.7 1160.1,468.1 1161.6,465.5 1163.1,462.9 1164.6,460.3 1166.0,457.6 1167.4,455.0 1168.8,452.3 1170.1,449.6 1171.4,446.9 1172.7,444.2 1174.0,441.5 1175.3,438.8 1176.6,436.0 1177.9,433.3 1179.1,430.6 1180.4,427.9 1181.7,425.2 1183.0,422.5 1184.4,419.8 1185.7,417.1 1187.0,414.4 1188.4,411.7 1189.7,409.0 1191.0,406.3 1192.4,403.6 1193.7,401.0 1195.1,398.3 1196.4,395.6 1197.8,392.9 1199.2,390.2 1200.6,387.6 1201.9,384.9 1203.3,382.2 1204.7,379.6 1206.0,376.9 1207.4,374.2 1208.8,371.5 1210.1,368.8 1211.5,366.2 1212.8,363.5 1214.1,360.8 1215.5,358.1 1216.8,355.4 1218.2,352.7 1219.5,350.0 1220.8,347.3 1222.2,344.6 1223.5,342.0 1224.9,339.3 1226.2,336.6 1227.6,333.9 1228.9,331.2 1230.3,328.5 1231.6,325.9 1233.0,323.2 1234.4,320.5 1235.8,317.9 1237.2,315.2 1238.6,312.6 1240.1,309.9 1241.5,307.3 1243.0,304.7 1244.4,302.0 1245.9,299.4 1247.3,296.8 1248.8,294.2 1250.2,291.5 1251.7,288.9 1253.1,286.2 1254.5,283.6 1256.0,281.0 1257.4,278.3 1258.8,275.7 1260.2,273.0 1261.6,270.4 1263.1,267.7 1264.5,265.1 1265.9,262.4 1267.3,259.8 1268.8,257.1 1270.2,254.5 1271.7,251.9 1273.2,249.3 1274.6,246.7 1276.1,244.1 1277.6,241.4 1279.1,238.8 1280.6,236.2 1282.0,233.6 1283.4,230.9 1284.8,228.3 1286.2,225.6 1287.6,222.9 1288.9,220.2 1290.2,217.5 1291.5,214.8 1292.8,212.1 1294.1,209.4 1295.3,206.7 1296.6,203.9 1297.9,201.2 1299.2,198.5 1300.5,195.8 1301.9,193.2 1303.3,190.5 1304.7,187.8 1306.1,185.2 1307.4,182.5 1308.8,179.8 1310.1,177.1 1311.4,174.4 1312.7,171.7 1314.0,169.0 1315.3,166.4 1316.7,163.7 1318.2,161.1 1319.7,158.5 1321.2,155.9 1322.7,153.3 1324.3,150.7 1325.8,148.2 1327.4,145.6 1328.9,143.0 1330.5,140.4 1332.0,137.9 1333.6,135.3 1335.2,132.7 1336.8,130.2 1338.4,127.7 1340.0,125.1 1341.7,122.6 1343.3,120.1 1345.0,117.6 1346.6,115.1 1348.3,112.6 1349.9,110.1 1351.5,107.6 1353.1,105.0 1354.7,102.4 1356.2,99.9 1357.7,97.3 1359.2,94.7 1360.7,92.0 1362.2,89.4 1363.7,86.8 1365.1,84.2 1366.6,81.6 1368.1,79.0 1369.6,76.4 1371.0,73.7 1372.5,71.1 1374.0,68.5 1375.0,71.3 1376.0,74.2 1377.0,77.0 1377.9,79.8 1378.9,82.7 1379.9,85.5 1381.0,88.3 1382.1,91.1 1383.2,93.8 1384.5,96.5 1385.9,99.2 1387.3,101.7 1388.9,104.3 1390.5,106.8 1392.1,109.4 1393.6,111.9 1395.2,114.5 1396.6,117.1 1398.0,119.7 1399.4,122.4 1400.7,125.1 1402.0,127.8 1403.3,130.5 1404.7,133.2 1406.0,135.8 1407.5,138.5 1409.0,141.0 1410.5,143.6 1412.1,146.1 1413.8,148.6 1415.4,151.2 1417.0,153.7 1418.6,156.2 1420.1,158.8 1421.6,161.4 1423.1,164.0 1424.5,166.6 1425.9,169.3 1427.3,171.9 1428.7,174.6 1430.1,177.3 1431.4,180.0 1432.8,182.7 1434.1,185.3 1435.4,188.0 1436.7,190.8 1438.0,193.5 1439.2,196.2 1440.4,198.9 1441.6,201.7 1442.8,204.5 1444.0,207.2 1445.1,210.0 1446.3,212.8 1447.4,215.6 1448.5,218.3 1449.6,221.1 1450.7,223.9 1451.8,226.7 1452.9,229.5 1454.1,232.3 1455.2,235.1 1456.3,237.8 1457.5,240.6 1458.7,243.4 1459.9,246.1 1461.1,248.9 1462.3,251.6 1463.5,254.4 1464.8,257.1 1466.0,259.8 1467.2,262.6 1468.3,265.4 1469.5,268.1 1470.6,270.9 1471.6,273.7 1472.6,276.6 1473.6,279.4 1474.6,282.2 1475.5,285.1 1476.6,287.9 1477.6,290.7 1478.7,293.4 1479.9,296.2 1481.1,299.0 1482.3,301.7 1483.4,304.5 1484.6,307.2 1485.8,310.0 1486.9,312.8 1488.0,315.6 1489.1,318.4 1490.1,321.2 1491.2,324.0 1492.2,326.8 1493.2,329.7 1494.2,332.5 1495.1,335.3 1496.0,338.2 1497.0,341.1 1497.9,343.9 1498.8,346.8 1499.7,349.6 1500.6,352.5 1501.5,355.4 1502.3,358.2 1503.2,361.1 1504.1,364.0 1505.1,366.8 1506.0,369.7 1506.9,372.5 1507.8,375.4 1508.8,378.2 1509.7,381.1 1510.7,383.9 1511.6,386.8 1512.6,389.6 1513.5,392.5 1514.5,395.3 1515.4,398.2 1516.4,401.0 1517.3,403.9 1518.3,406.7 1519.2,409.6 1520.2,412.4 1521.1,415.3 1522.0,418.1 1522.9,421.0 1523.8,423.9 1524.6,426.8 1525.5,429.6 1526.4,432.5 1527.3,435.4 1528.2,438.2 1529.1,441.1 1530.0,444.0 1530.9,446.8 1531.8,449.7 1532.8,452.5 1533.7,455.4 1534.7,458.2 1535.7,461.0 1536.7,463.9 1537.7,466.7 1538.7,469.5 1539.7,472.3 1540.7,475.2 1541.7,478.0 1542.7,480.9 1543.6,483.7 1544.5,486.6 1545.4,489.4 1546.3,492.3 1547.2,495.2 1548.0,498.0 1548.9,500.9 1549.7,503.8 1550.5,506.7 1551.2,509.6 1552.0,512.5 1552.8,515.4 1553.7,518.3 1554.5,521.1 1555.4,524.0 1556.3,526.9 1557.2,529.7 1558.2,532.6 1559.1,535.4 1560.0,538.3 1560.9,541.2 1561.8,544.0 1562.7,546.9 1563.5,549.8 1564.3,552.7 1565.1,555.6 1566.0,558.4 1566.8,561.3 1567.6,564.2 1568.4,567.1 1569.2,570.0 1570.0,572.9 1570.8,575.8 1571.6,578.7 1572.4,581.6 1573.2,584.5 1574.1,587.3 1575.0,590.2 1575.9,593.1 1576.8,595.9 1577.8,598.8 1578.7,601.6 1579.6,604.5 1580.5,607.3 1581.3,610.2 1582.1,613.1 1582.9,616.0 1583.7,618.9 1584.5,621.8 1585.2,624.7 1586.0,627.6 1586.8,630.5 1587.5,633.4 1588.3,636.3 1589.1,639.2 1589.8,642.1 1590.6,645.0 1591.4,647.9 1592.1,650.8 1592.9,653.7 1593.7,656.6 1594.5,659.5 1595.3,662.4 1596.1,665.3 1596.9,668.2 1597.7,671.1 1598.5,674.0 1599.3,676.9 1600.1,679.8 1600.8,682.7 1601.5,685.6 1602.2,688.5 1602.9,691.4 1603.6,694.4 1604.2,697.3 1604.9,700.2 1605.5,703.2 1606.2,706.1 1606.9,709.0 1607.6,711.9 1608.2,714.8 1608.9,717.8 1609.7,720.7 1610.4,723.6 1611.1,726.5 1611.8,729.4 1612.5,732.3 1613.2,735.3 1614.0,738.2 1614.7,741.1 1615.4,744.0 1616.1,746.9 1616.8,749.8 1617.5,752.8 1618.2,755.7 1618.9,758.6 1619.5,761.5 1620.2,764.5 1620.9,767.4 1621.6,770.3 1622.2,773.2 1622.9,776.2 1623.6,779.1 1624.2,782.0 1624.9,784.9 1625.6,787.9 1626.3,790.8 1627.0,793.7 1627.7,796.6 1628.4,799.5 1629.2,802.4 1629.9,805.3 1630.7,808.2 1631.5,811.1 1632.3,814.0 1633.1,816.9 1633.9,819.8 1634.7,822.7 1635.5,825.6 1636.3,828.5 1637.1,831.4 1637.9,834.3 1638.8,837.2 1639.6,840.1 1640.4,842.9 1641.1,845.8 1641.9,848.7 1642.7,851.6 1643.5,854.5 1644.3,857.4 1645.0,860.3 1645.8,863.2 1646.6,866.1 1647.3,869.0 1648.1,872.0 1648.9,874.9 1649.6,877.8 1650.4,880.7 1651.2,883.6 1651.9,886.5 1652.7,889.4 1653.4,892.3 1654.2,895.2 1654.9,898.1 1655.7,901.0 1656.4,903.9 1657.1,906.8 1657.8,909.8 1658.4,912.7 1659.1,915.6 1659.7,918.5 1660.4,921.5 1661.0,924.4 1661.7,927.3 1662.3,930.3 1663.0,933.2 1663.6,936.1 1664.2,939.1 1664.9,942.0 1665.5,944.9 1666.2,947.9 1666.9,950.8 1667.5,953.7 1668.2,956.6 1668.9,959.5 1669.7,962.5 1670.4,965.4 1671.2,968.3 1672.0,971.2 1672.8,974.1 1673.6,977.0 1674.4,979.8 1675.2,982.7 1676.0,985.6 1676.8,988.5 1677.5,991.4 1678.3,994.3 1679.1,997.2 1679.9,1000.1 1680.7,1003.0 1681.5,1005.9 1682.3,1008.8 1683.1,1011.7 1683.8,1014.6 1684.6,1017.5 1685.4,1020.4 1686.3,1023.3 1687.1,1026.2 1687.9,1029.0 1688.8,1031.9 1689.7,1034.8 1690.5,1037.7 1691.4,1040.5 1692.3,1043.4 1693.1,1046.3 1694.0,1049.2 1694.8,1052.0 1695.7,1054.9 1696.6,1057.8 1697.4,1060.7 1698.3,1063.5 1699.2,1066.4 1700.0,1069.3 1700.9,1072.2 1701.7,1075.0 1702.6,1077.9 1703.4,1080.8 1704.3,1083.7 1705.1,1086.6 1706.0,1089.4 1706.8,1092.3 1707.7,1095.2 1708.6,1098.1 1709.4,1100.9 1710.3,1103.8 1711.2,1106.7 1712.1,1109.5 1713.0,1112.4 1714.0,1115.2 1714.9,1118.1 1715.8,1120.9 1716.8,1123.8 1717.7,1126.6 1718.7,1129.5 1719.6,1132.3 1720.6,1135.2 1721.5,1138.0 1722.5,1140.9 1723.4,1143.7 1724.4,1146.6 1725.4,1149.4 1726.4,1152.2 1727.4,1155.1 1728.4,1157.9 1729.5,1160.7 1730.7,1163.5 1731.8,1166.2 1732.9,1169.0 1734.1,1171.8 1735.3,1174.5 1736.4,1177.3 1737.6,1180.1 1738.8,1182.8 1739.9,1185.6 1741.1,1188.4 1742.2,1191.1 1743.4,1193.9 1744.5,1196.7 1745.7,1199.5 1746.8,1202.3 1747.9,1205.0 1749.0,1207.8 1750.1,1210.6 1751.3,1213.4 1752.4,1216.2 1753.5,1219.0 1754.7,1221.7 1755.9,1224.5 1757.1,1227.2 1758.3,1229.9 1759.6,1232.7 1760.9,1235.4 1762.3,1238.0 1763.6,1240.7 1765.0,1243.4 1766.4,1246.0 1767.9,1248.7 1769.3,1251.3 1770.9,1253.8 1772.5,1256.3 1774.1,1258.8 1775.8,1261.3 1777.6,1263.8 1779.3,1266.2 1781.1,1268.6 1783.0,1270.9 1784.9,1273.2 1786.9,1275.5 1788.9,1277.7 1791.0,1279.8 1793.1,1282.0 1795.2,1284.0 1797.5,1286.0 1799.7,1287.9 1802.1,1289.8 1804.5,1291.4 1807.0,1293.0 1809.6,1294.3 1812.3,1295.5 1815.1,1296.6 1817.9,1297.5 1820.8,1298.4 1823.7,1299.1 1826.6,1299.8 1829.5,1300.4 1832.5,1301.0 1835.4,1301.6" fill="none" stroke="#000000" stroke-width="6.5" stroke-linejoin="round" stroke-dasharray="32 5.5 6 6.5"/>
</g>
<text transform="translate(234.5,83.3) scale(1,1.04)" text-anchor="end" class="tk">0.0020</text>
<text transform="translate(234.5,385) scale(1,1.04)" text-anchor="end" class="tk">0.00<tspan font-family="NanumGothic" font-size="67.00" stroke="#000" stroke-width="1.54" dx="1.25">1</tspan><tspan dx="-2.94">5</tspan></text>
<text transform="translate(234.5,699.6) scale(1,1.04)" text-anchor="end" class="tk">0.00<tspan font-family="NanumGothic" font-size="67.00" stroke="#000" stroke-width="1.54" dx="1.25">1</tspan><tspan dx="-2.94">0</tspan></text>
<text transform="translate(234.5,1015.2) scale(1,1.04)" text-anchor="end" class="tk">0.0005</text>
<text transform="translate(234.5,1328.8) scale(1,1.04)" text-anchor="end" class="tk">0.0000</text>
<text transform="translate(298.5,1429) scale(0.97,1.02)" text-anchor="middle" class="tk">0</text>
<text transform="translate(691,1429) scale(0.97,1.02)" text-anchor="middle" class="tk"><tspan font-family="NanumGothic" font-size="67.00" stroke="#000" stroke-width="1.54" dx="1.25">1</tspan><tspan dx="-2.94">0</tspan></text>
<text transform="translate(1083.5,1429) scale(0.97,1.02)" text-anchor="middle" class="tk">20</text>
<text transform="translate(1476,1429) scale(0.97,1.02)" text-anchor="middle" class="tk">30</text>
<text transform="translate(1868,1429) scale(0.97,1.02)" text-anchor="middle" class="tk">40</text>
<g shape-rendering="crispEdges">
<line x1="463" y1="179.4" x2="663" y2="179.4" stroke="#000000" stroke-width="7" stroke-dasharray="32 5.5 6 6.5"/>
<text x="684" y="195.9" class="lg">analytical</text>
<line x1="463" y1="244.1" x2="663" y2="244.1" stroke="#0000FF" stroke-width="7" />
<text transform="translate(683,263.5) scale(1,1.05)" class="lg"><tspan class="th">Θ</tspan> = <tspan font-family="NanumGothic" font-size="44.99" stroke="#000" stroke-width="1.03" dx="0.84">1</tspan><tspan dx="-1.97">0000</tspan></text>
<line x1="463" y1="311.5" x2="663" y2="311.5" stroke="#663333" stroke-width="7" />
<text transform="translate(683,331.1) scale(1,1.05)" class="lg"><tspan class="th">Θ</tspan> = <tspan font-family="NanumGothic" font-size="44.99" stroke="#000" stroke-width="1.03" dx="0.84">1</tspan><tspan dx="-1.97">000</tspan></text>
<line x1="463" y1="379.4" x2="663" y2="379.4" stroke="#006633" stroke-width="7" />
<text transform="translate(683,398.7) scale(1,1.05)" class="lg"><tspan class="th">Θ</tspan> = <tspan font-family="NanumGothic" font-size="44.99" stroke="#000" stroke-width="1.03" dx="0.84">1</tspan><tspan dx="-1.97">00</tspan></text>
<line x1="463" y1="447.5" x2="663" y2="447.5" stroke="#00FF00" stroke-width="7" />
<text transform="translate(683,466.3) scale(1,1.05)" class="lg"><tspan class="th">Θ</tspan> = <tspan font-family="NanumGothic" font-size="44.99" stroke="#000" stroke-width="1.03" dx="0.84">1</tspan><tspan dx="-1.97">0</tspan></text>
<line x1="463" y1="514" x2="663" y2="514" stroke="#9900CC" stroke-width="7" />
<text transform="translate(683,533.9) scale(1,1.05)" class="lg"><tspan class="th">Θ</tspan> = <tspan font-family="NanumGothic" font-size="44.99" stroke="#000" stroke-width="1.03" dx="0.84">1</tspan></text>
<line x1="463" y1="582.3" x2="663" y2="582.3" stroke="#FF6600" stroke-width="7" />
<text transform="translate(683,601.5) scale(1,1.05)" class="lg"><tspan class="th">Θ</tspan> = 0.<tspan font-family="NanumGothic" font-size="44.99" stroke="#000" stroke-width="1.03" dx="0.84">1</tspan></text>
<line x1="463" y1="650" x2="663" y2="650" stroke="#FF0000" stroke-width="7" stroke-dasharray="19 12.3"/>
<text transform="translate(683,669.1) scale(1,1.05)" class="lg"><tspan class="th">Θ</tspan> = 0</text>
</g>
<text class="ax" font-size="78" font-style="italic" x="15" y="534">n</text>
<text class="ax" font-size="52.5" font-style="italic" x="57" y="553.2">cone</text>
<text class="ax" font-size="74" x="185" y="533.8">/</text>
<text class="ax" font-size="78" font-style="italic" x="207" y="534">n</text>
<text class="ax" font-size="46" x="247.2" y="553">0</text>
<text class="ax" font-size="69" font-style="italic" x="1186" y="1438.5">x</text>
<text class="ax" font-size="69" x="1222" y="1438.5">/</text>
<text class="ax" font-size="69" x="1242.5" y="1438.5">(</text>
<text class="ax" font-size="69" font-style="italic" x="1266" y="1438.8">u</text>
<text class="ax" font-size="41" font-style="italic" x="1304" y="1456.5">K</text>
<text class="ax" font-size="69" font-family="Liberation Serif" x="1332" y="1438.2" style="font-family:'Liberation Serif',serif">τ</text>
<text class="ax" font-size="69" x="1365.5" y="1438.5">)</text>
</svg>
</body></html>
